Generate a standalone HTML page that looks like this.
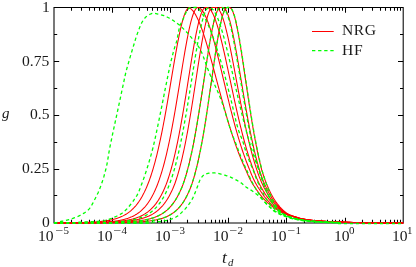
<!DOCTYPE html>
<html><head><meta charset="utf-8"><title>g vs t_d</title>
<style>
html,body{margin:0;padding:0;background:#fff;}
body{width:416px;height:267px;position:relative;overflow:hidden;font-family:"Liberation Serif",serif;}
.t{position:absolute;font-family:"Liberation Serif",serif;font-size:15.6px;line-height:17px;color:#1a1a1a;white-space:nowrap;will-change:transform;}
.sup{font-size:11px;}
.mn{display:inline-block;width:8.4px;transform:scaleX(1.28);transform-origin:0 50%;}
.it{font-style:italic;}
</style></head><body>
<svg width="416" height="267" viewBox="0 0 416 267" style="position:absolute;left:0;top:0">
<path d="M54.00,7.50 H403.20 V222.90 H54.00 Z" fill="none" stroke="#000" stroke-width="1.05"/>
<path d="M71.50,222.90 v-3.20 M71.50,7.50 v3.20 M81.50,222.90 v-3.20 M81.50,7.50 v3.20 M89.50,222.90 v-3.20 M89.50,7.50 v3.20 M94.50,222.90 v-3.20 M94.50,7.50 v3.20 M99.50,222.90 v-3.20 M99.50,7.50 v3.20 M103.50,222.90 v-3.20 M103.50,7.50 v3.20 M106.50,222.90 v-3.20 M106.50,7.50 v3.20 M109.50,222.90 v-3.20 M109.50,7.50 v3.20 M112.50,222.90 v-5.20 M112.50,7.50 v5.20 M129.50,222.90 v-3.20 M129.50,7.50 v3.20 M139.50,222.90 v-3.20 M139.50,7.50 v3.20 M147.50,222.90 v-3.20 M147.50,7.50 v3.20 M152.50,222.90 v-3.20 M152.50,7.50 v3.20 M157.50,222.90 v-3.20 M157.50,7.50 v3.20 M161.50,222.90 v-3.20 M161.50,7.50 v3.20 M164.50,222.90 v-3.20 M164.50,7.50 v3.20 M167.50,222.90 v-3.20 M167.50,7.50 v3.20 M170.50,222.90 v-5.20 M170.50,7.50 v5.20 M187.50,222.90 v-3.20 M187.50,7.50 v3.20 M198.50,222.90 v-3.20 M198.50,7.50 v3.20 M205.50,222.90 v-3.20 M205.50,7.50 v3.20 M211.50,222.90 v-3.20 M211.50,7.50 v3.20 M215.50,222.90 v-3.20 M215.50,7.50 v3.20 M219.50,222.90 v-3.20 M219.50,7.50 v3.20 M222.50,222.90 v-3.20 M222.50,7.50 v3.20 M225.50,222.90 v-3.20 M225.50,7.50 v3.20 M228.50,222.90 v-5.20 M228.50,7.50 v5.20 M246.50,222.90 v-3.20 M246.50,7.50 v3.20 M256.50,222.90 v-3.20 M256.50,7.50 v3.20 M263.50,222.90 v-3.20 M263.50,7.50 v3.20 M269.50,222.90 v-3.20 M269.50,7.50 v3.20 M273.50,222.90 v-3.20 M273.50,7.50 v3.20 M277.50,222.90 v-3.20 M277.50,7.50 v3.20 M281.50,222.90 v-3.20 M281.50,7.50 v3.20 M284.50,222.90 v-3.20 M284.50,7.50 v3.20 M286.50,222.90 v-5.20 M286.50,7.50 v5.20 M304.50,222.90 v-3.20 M304.50,7.50 v3.20 M314.50,222.90 v-3.20 M314.50,7.50 v3.20 M321.50,222.90 v-3.20 M321.50,7.50 v3.20 M327.50,222.90 v-3.20 M327.50,7.50 v3.20 M332.50,222.90 v-3.20 M332.50,7.50 v3.20 M335.50,222.90 v-3.20 M335.50,7.50 v3.20 M339.50,222.90 v-3.20 M339.50,7.50 v3.20 M342.50,222.90 v-3.20 M342.50,7.50 v3.20 M345.50,222.90 v-5.20 M345.50,7.50 v5.20 M362.50,222.90 v-3.20 M362.50,7.50 v3.20 M372.50,222.90 v-3.20 M372.50,7.50 v3.20 M380.50,222.90 v-3.20 M380.50,7.50 v3.20 M385.50,222.90 v-3.20 M385.50,7.50 v3.20 M390.50,222.90 v-3.20 M390.50,7.50 v3.20 M394.50,222.90 v-3.20 M394.50,7.50 v3.20 M397.50,222.90 v-3.20 M397.50,7.50 v3.20 M400.50,222.90 v-3.20 M400.50,7.50 v3.20 M54.00,195.50 h3.20 M403.20,195.50 h-3.20 M54.00,169.50 h5.20 M403.20,169.50 h-5.20 M54.00,142.50 h3.20 M403.20,142.50 h-3.20 M54.00,115.50 h5.20 M403.20,115.50 h-5.20 M54.00,88.50 h3.20 M403.20,88.50 h-3.20 M54.00,61.50 h5.20 M403.20,61.50 h-5.20 M54.00,34.50 h3.20 M403.20,34.50 h-3.20" fill="none" stroke="#000" stroke-width="1.05"/>
<g fill="none" stroke="#ff0000" stroke-width="1.05" stroke-linejoin="round">
<path d="M54.00,222.85 L54.50,222.85 L55.00,222.85 L55.50,222.84 L56.00,222.84 L56.50,222.84 L57.00,222.84 L57.50,222.84 L58.00,222.83 L58.50,222.83 L59.00,222.83 L59.50,222.83 L60.00,222.82 L60.50,222.82 L61.00,222.82 L61.50,222.81 L62.00,222.81 L62.50,222.81 L63.00,222.81 L63.50,222.80 L64.00,222.80 L64.50,222.79 L65.00,222.79 L65.50,222.79 L66.00,222.78 L66.50,222.78 L67.00,222.77 L67.50,222.77 L68.00,222.76 L68.50,222.76 L69.00,222.75 L69.50,222.75 L70.00,222.74 L70.50,222.74 L71.00,222.73 L71.50,222.73 L72.00,222.72 L72.50,222.71 L73.00,222.71 L73.50,222.70 L74.00,222.69 L74.50,222.68 L75.00,222.68 L75.50,222.67 L76.00,222.66 L76.50,222.65 L77.00,222.64 L77.50,222.63 L78.00,222.62 L78.50,222.61 L79.00,222.60 L79.50,222.59 L80.00,222.58 L80.50,222.57 L81.00,222.55 L81.50,222.54 L82.00,222.53 L82.50,222.51 L83.00,222.50 L83.50,222.49 L84.00,222.47 L84.50,222.45 L85.00,222.44 L85.50,222.42 L86.00,222.40 L86.50,222.39 L87.00,222.37 L87.50,222.35 L88.00,222.33 L88.50,222.31 L89.00,222.28 L89.50,222.26 L90.00,222.24 L90.50,222.21 L91.00,222.19 L91.50,222.16 L92.00,222.14 L92.50,222.11 L93.00,222.08 L93.50,222.05 L94.00,222.02 L94.50,221.99 L95.00,221.95 L95.50,221.92 L96.00,221.88 L96.50,221.85 L97.00,221.81 L97.50,221.77 L98.00,221.73 L98.50,221.68 L99.00,221.64 L99.50,221.59 L100.00,221.54 L100.50,221.49 L101.00,221.44 L101.50,221.39 L102.00,221.33 L102.50,221.28 L103.00,221.22 L103.50,221.16 L104.00,221.09 L104.50,221.03 L105.00,220.96 L105.50,220.89 L106.00,220.82 L106.50,220.74 L107.00,220.66 L107.50,220.58 L108.00,220.49 L108.50,220.41 L109.00,220.32 L109.50,220.22 L110.00,220.12 L110.50,220.02 L111.00,219.92 L111.50,219.81 L112.00,219.70 L112.50,219.58 L113.00,219.46 L113.50,219.33 L114.00,219.21 L114.50,219.07 L115.00,218.93 L115.50,218.79 L116.00,218.64 L116.50,218.48 L117.00,218.32 L117.50,218.16 L118.00,217.99 L118.50,217.81 L119.00,217.62 L119.50,217.43 L120.00,217.23 L120.50,217.03 L121.00,216.82 L121.50,216.60 L122.00,216.37 L122.50,216.14 L123.00,215.89 L123.50,215.64 L124.00,215.38 L124.50,215.11 L125.00,214.83 L125.50,214.54 L126.00,214.24 L126.50,213.93 L127.00,213.60 L127.50,213.27 L128.00,212.93 L128.50,212.57 L129.00,212.20 L129.50,211.82 L130.00,211.42 L130.50,211.01 L131.00,210.59 L131.50,210.15 L132.00,209.70 L132.50,209.23 L133.00,208.75 L133.50,208.25 L134.00,207.73 L134.50,207.19 L135.00,206.64 L135.50,206.07 L136.00,205.48 L136.50,204.86 L137.00,204.23 L137.50,203.58 L138.00,202.91 L138.50,202.21 L139.00,201.49 L139.50,200.75 L140.00,199.98 L140.50,199.18 L141.00,198.37 L141.50,197.52 L142.00,196.65 L142.50,195.75 L143.00,194.82 L143.50,193.86 L144.00,192.88 L144.50,191.86 L145.00,190.81 L145.50,189.73 L146.00,188.61 L146.50,187.46 L147.00,186.28 L147.50,185.06 L148.00,183.81 L148.50,182.51 L149.00,181.19 L149.50,179.82 L150.00,178.41 L150.50,176.96 L151.00,175.48 L151.50,173.95 L152.00,172.38 L152.50,170.77 L153.00,169.11 L153.50,167.41 L154.00,165.67 L154.50,163.88 L155.00,162.05 L155.50,160.17 L156.00,158.24 L156.50,156.27 L157.00,154.26 L157.50,152.19 L158.00,150.08 L158.50,147.93 L159.00,145.73 L159.50,143.48 L160.00,141.18 L160.50,138.84 L161.00,136.46 L161.50,134.03 L162.00,131.55 L162.50,129.04 L163.00,126.48 L163.50,123.88 L164.00,121.24 L164.50,118.56 L165.00,115.84 L165.50,113.09 L166.00,110.31 L166.50,107.49 L167.00,104.65 L167.50,101.78 L168.00,98.88 L168.50,95.96 L169.00,93.02 L169.50,90.07 L170.00,87.10 L170.50,84.13 L171.00,81.14 L171.50,78.16 L172.00,75.18 L172.50,72.20 L173.00,69.23 L173.50,66.28 L174.00,63.34 L174.50,60.43 L175.00,57.54 L175.50,54.69 L176.00,51.88 L176.50,49.11 L177.00,46.38 L177.50,43.71 L178.00,41.09 L178.50,38.54 L179.00,36.05 L179.50,33.64 L180.00,31.31 L180.50,29.06 L181.00,26.90 L181.50,24.83 L182.00,22.85 L182.50,20.98 L183.00,19.22 L183.50,17.56 L184.00,16.02 L184.50,14.60 L185.00,13.30 L185.50,12.13 L186.00,11.08 L186.50,10.16 L187.00,9.38 L187.50,8.73 L188.00,8.21 L188.50,7.84 L189.00,7.78 L189.50,7.99 L190.00,8.25 L190.50,8.56 L191.00,8.93 L191.50,9.35 L192.00,9.83 L192.50,10.36 L193.00,10.94 L193.50,11.58 L194.00,12.26 L194.50,13.00 L195.00,13.79 L195.50,14.62 L196.00,15.51 L196.50,16.44 L197.00,17.41 L197.50,18.44 L198.00,19.51 L198.50,20.62 L199.00,21.77 L199.50,22.97 L200.00,24.20 L200.50,25.48 L201.00,26.79 L201.50,28.14 L202.00,29.53 L202.50,30.95 L203.00,32.40 L203.50,33.89 L204.00,35.41 L204.50,36.95 L205.00,38.53 L205.50,40.13 L206.00,41.76 L206.50,43.41 L207.00,45.08 L207.50,46.78 L208.00,48.50 L208.50,50.23 L209.00,51.99 L209.50,53.76 L210.00,55.55 L210.50,57.35 L211.00,59.16 L211.50,60.99 L212.00,62.83 L212.50,64.67 L213.00,66.53 L213.50,68.39 L214.00,70.26 L214.50,72.13 L215.00,74.00 L215.50,75.88 L216.00,77.76 L216.50,79.65 L217.00,81.53 L217.50,83.41 L218.00,85.29 L218.50,87.16 L219.00,89.04 L219.50,90.90 L220.00,92.76 L220.50,94.62 L221.00,96.47 L221.50,98.31 L222.00,100.14 L222.50,101.96 L223.00,103.78 L223.50,105.58 L224.00,107.37 L224.50,109.15 L225.00,110.92 L225.50,112.67 L226.00,114.41 L226.50,116.14 L227.00,117.86 L227.50,119.56 L228.00,121.24 L228.50,122.91 L229.00,124.56 L229.50,126.20 L230.00,127.82 L230.50,129.43 L231.00,131.01 L231.50,132.58 L232.00,134.14 L232.50,135.67 L233.00,137.19 L233.50,138.69 L234.00,140.18 L234.50,141.64 L235.00,143.09 L235.50,144.52 L236.00,145.93 L236.50,147.32 L237.00,148.69 L237.50,150.05 L238.00,151.38 L238.50,152.70 L239.00,154.00 L239.50,155.28 L240.00,156.54 L240.50,157.78 L241.00,159.01 L241.50,160.22 L242.00,161.41 L242.50,162.58 L243.00,163.73 L243.50,164.87 L244.00,165.98 L244.50,167.08 L245.00,168.16 L245.50,169.23 L246.00,170.29 L246.50,171.48 L247.00,172.72 L247.50,173.91 L248.00,175.03 L248.50,176.11 L249.00,177.16 L249.50,178.17 L250.00,179.15 L250.50,180.11 L251.00,181.03 L251.50,181.93 L252.00,182.80 L252.50,183.65 L253.00,184.48 L253.50,185.28 L254.00,186.07 L254.50,186.83 L255.00,187.57 L255.50,188.30 L256.00,189.01 L256.50,189.69 L257.00,190.36 L257.50,191.03 L258.00,191.72 L258.50,192.41 L259.00,193.10 L259.50,193.77 L260.00,194.42 L260.50,195.07 L261.00,195.69 L261.50,196.30 L262.00,196.90 L262.50,197.48 L263.00,198.04 L263.50,198.59 L264.00,199.13 L264.50,199.66 L265.00,200.17 L265.50,200.67 L266.00,201.16 L266.50,201.64 L267.00,202.11 L267.50,202.57 L268.00,203.02 L268.50,203.46 L269.00,203.89 L269.50,204.31 L270.00,204.72 L270.50,205.12 L271.00,205.51 L271.50,205.89 L272.00,206.26 L272.50,206.63 L273.00,206.99 L273.50,207.34 L274.00,207.69 L274.50,208.03 L275.00,208.37 L275.50,208.70 L276.00,209.02 L276.50,209.34 L277.00,209.65 L277.50,209.96 L278.00,210.26 L278.50,210.56 L279.00,210.85 L279.50,211.14 L280.00,211.42 L280.50,211.70 L281.00,211.97 L281.50,212.24 L282.00,212.50 L282.50,212.77 L283.00,213.02 L283.50,213.26 L284.00,213.50 L284.50,213.73 L285.00,213.95 L285.50,214.17 L286.00,214.38 L286.50,214.60 L287.00,214.81 L287.50,215.00 L288.00,215.17 L288.50,215.34 L289.00,215.51 L289.50,215.68 L290.00,215.84 L290.50,216.00 L291.00,216.15 L291.50,216.31 L292.00,216.46 L292.50,216.60 L293.00,216.75 L293.50,216.89 L294.00,217.03 L294.50,217.18 L295.00,217.32 L295.50,217.48 L296.00,217.64 L296.50,217.79 L297.00,217.95 L297.50,218.09 L298.00,218.23 L298.50,218.36 L299.00,218.49 L299.50,218.62 L300.00,218.74 L300.50,218.84 L301.00,218.93 L301.50,219.02 L302.00,219.10 L302.50,219.18 L303.00,219.26 L303.50,219.34 L304.00,219.42 L304.50,219.50 L305.00,219.58 L305.50,219.66 L306.00,219.73 L306.50,219.81 L307.00,219.88 L307.50,219.96 L308.00,220.03 L308.50,220.09 L309.00,220.16 L309.50,220.23 L310.00,220.29 L310.50,220.35 L311.00,220.41 L311.50,220.47 L312.00,220.52 L312.50,220.57 L313.00,220.61 L313.50,220.66 L314.00,220.70 L314.50,220.74 L315.00,220.79 L315.50,220.83 L316.00,220.87 L316.50,220.91 L317.00,220.95 L317.50,220.99 L318.00,221.03 L318.50,221.07 L319.00,221.10 L319.50,221.14 L320.00,221.17 L320.50,221.21 L321.00,221.24 L321.50,221.28 L322.00,221.31 L322.50,221.34 L323.00,221.37 L323.50,221.40 L324.00,221.43 L324.50,221.46 L325.00,221.48 L325.50,221.51 L326.00,221.53 L326.50,221.56 L327.00,221.58 L327.50,221.61 L328.00,221.63 L328.50,221.66 L329.00,221.68 L329.50,221.70 L330.00,221.72 L330.50,221.75 L331.00,221.77 L331.50,221.79 L332.00,221.81 L332.50,221.83 L333.00,221.85 L333.50,221.87 L334.00,221.89 L334.50,221.91 L335.00,221.93 L335.50,221.95 L336.00,221.98 L336.50,222.00 L337.00,222.03 L337.50,222.05 L338.00,222.07 L338.50,222.09 L339.00,222.12 L339.50,222.14 L340.00,222.16 L340.50,222.18 L341.00,222.20 L341.50,222.22 L342.00,222.24 L342.50,222.25 L343.00,222.27 L343.50,222.29 L344.00,222.30 L344.50,222.32 L345.00,222.34 L345.50,222.35 L346.00,222.37 L346.50,222.38 L347.00,222.39 L347.50,222.41 L348.00,222.42 L348.50,222.43 L349.00,222.45 L349.50,222.46 L350.00,222.47 L350.50,222.48 L351.00,222.50 L351.50,222.51 L352.00,222.52 L352.50,222.53 L353.00,222.53 L353.50,222.54 L354.00,222.55 L354.50,222.56 L355.00,222.56 L355.50,222.57 L356.00,222.58 L356.50,222.59 L357.00,222.59 L357.50,222.60 L358.00,222.61 L358.50,222.61 L359.00,222.62 L359.50,222.63 L360.00,222.64 L360.50,222.64 L361.00,222.65 L361.50,222.66 L362.00,222.66 L362.50,222.67 L363.00,222.67 L363.50,222.68 L364.00,222.69 L364.50,222.69 L365.00,222.70 L365.50,222.70 L366.00,222.71 L366.50,222.72 L367.00,222.72 L367.50,222.73 L368.00,222.73 L368.50,222.74 L369.00,222.74 L369.50,222.75 L370.00,222.75 L370.50,222.76 L371.00,222.76 L371.50,222.77 L372.00,222.77 L372.50,222.78 L373.00,222.78 L373.50,222.79 L374.00,222.79 L374.50,222.79 L375.00,222.80 L375.50,222.80 L376.00,222.81 L376.50,222.81 L377.00,222.81 L377.50,222.82 L378.00,222.82 L378.50,222.82 L379.00,222.83 L379.50,222.83 L380.00,222.83 L380.50,222.84 L381.00,222.84 L381.50,222.84 L382.00,222.84 L382.50,222.85 L383.00,222.85 L383.50,222.85 L384.00,222.85 L384.50,222.86 L385.00,222.86 L385.50,222.86 L386.00,222.86 L386.50,222.86 L387.00,222.86 L387.50,222.86 L388.00,222.87 L388.50,222.87 L389.00,222.87 L389.50,222.87 L390.00,222.87 L390.50,222.87 L391.00,222.87 L391.50,222.88 L392.00,222.88 L392.50,222.88 L393.00,222.88 L393.50,222.88 L394.00,222.88 L394.50,222.88 L395.00,222.88 L395.50,222.88 L396.00,222.88 L396.50,222.89 L397.00,222.89 L397.50,222.89 L398.00,222.89 L398.50,222.89 L399.00,222.89 L399.50,222.89 L400.00,222.89 L400.50,222.89 L401.00,222.89 L401.50,222.89 L402.00,222.90 L402.50,222.90 L403.00,222.90 L403.20,222.90"/>
<path d="M54.00,222.88 L54.50,222.88 L55.00,222.88 L55.50,222.88 L56.00,222.88 L56.50,222.88 L57.00,222.88 L57.50,222.88 L58.00,222.87 L58.50,222.87 L59.00,222.87 L59.50,222.87 L60.00,222.87 L60.50,222.87 L61.00,222.87 L61.50,222.87 L62.00,222.87 L62.50,222.86 L63.00,222.86 L63.50,222.86 L64.00,222.86 L64.50,222.86 L65.00,222.86 L65.50,222.85 L66.00,222.85 L66.50,222.85 L67.00,222.85 L67.50,222.85 L68.00,222.85 L68.50,222.84 L69.00,222.84 L69.50,222.84 L70.00,222.84 L70.50,222.83 L71.00,222.83 L71.50,222.83 L72.00,222.83 L72.50,222.82 L73.00,222.82 L73.50,222.82 L74.00,222.82 L74.50,222.81 L75.00,222.81 L75.50,222.81 L76.00,222.80 L76.50,222.80 L77.00,222.79 L77.50,222.79 L78.00,222.79 L78.50,222.78 L79.00,222.78 L79.50,222.77 L80.00,222.77 L80.50,222.76 L81.00,222.76 L81.50,222.75 L82.00,222.75 L82.50,222.74 L83.00,222.73 L83.50,222.73 L84.00,222.72 L84.50,222.71 L85.00,222.71 L85.50,222.70 L86.00,222.69 L86.50,222.69 L87.00,222.68 L87.50,222.67 L88.00,222.66 L88.50,222.65 L89.00,222.64 L89.50,222.63 L90.00,222.62 L90.50,222.61 L91.00,222.60 L91.50,222.59 L92.00,222.58 L92.50,222.56 L93.00,222.55 L93.50,222.54 L94.00,222.52 L94.50,222.51 L95.00,222.50 L95.50,222.48 L96.00,222.46 L96.50,222.45 L97.00,222.43 L97.50,222.41 L98.00,222.39 L98.50,222.38 L99.00,222.36 L99.50,222.33 L100.00,222.31 L100.50,222.29 L101.00,222.27 L101.50,222.24 L102.00,222.22 L102.50,222.19 L103.00,222.17 L103.50,222.14 L104.00,222.11 L104.50,222.08 L105.00,222.05 L105.50,222.02 L106.00,221.98 L106.50,221.95 L107.00,221.91 L107.50,221.88 L108.00,221.84 L108.50,221.80 L109.00,221.76 L109.50,221.71 L110.00,221.67 L110.50,221.62 L111.00,221.57 L111.50,221.52 L112.00,221.47 L112.50,221.42 L113.00,221.36 L113.50,221.30 L114.00,221.24 L114.50,221.18 L115.00,221.11 L115.50,221.05 L116.00,220.98 L116.50,220.91 L117.00,220.83 L117.50,220.75 L118.00,220.67 L118.50,220.59 L119.00,220.50 L119.50,220.41 L120.00,220.32 L120.50,220.22 L121.00,220.12 L121.50,220.01 L122.00,219.90 L122.50,219.79 L123.00,219.67 L123.50,219.55 L124.00,219.43 L124.50,219.30 L125.00,219.16 L125.50,219.02 L126.00,218.87 L126.50,218.72 L127.00,218.57 L127.50,218.40 L128.00,218.24 L128.50,218.06 L129.00,217.88 L129.50,217.69 L130.00,217.50 L130.50,217.30 L131.00,217.09 L131.50,216.87 L132.00,216.64 L132.50,216.41 L133.00,216.17 L133.50,215.92 L134.00,215.66 L134.50,215.39 L135.00,215.11 L135.50,214.82 L136.00,214.52 L136.50,214.21 L137.00,213.88 L137.50,213.55 L138.00,213.20 L138.50,212.84 L139.00,212.47 L139.50,212.09 L140.00,211.69 L140.50,211.27 L141.00,210.85 L141.50,210.40 L142.00,209.94 L142.50,209.47 L143.00,208.98 L143.50,208.47 L144.00,207.94 L144.50,207.39 L145.00,206.83 L145.50,206.24 L146.00,205.64 L146.50,205.01 L147.00,204.36 L147.50,203.69 L148.00,203.00 L148.50,202.28 L149.00,201.54 L149.50,200.77 L150.00,199.98 L150.50,199.16 L151.00,198.31 L151.50,197.44 L152.00,196.53 L152.50,195.60 L153.00,194.63 L153.50,193.64 L154.00,192.61 L154.50,191.55 L155.00,190.45 L155.50,189.32 L156.00,188.16 L156.50,186.96 L157.00,185.72 L157.50,184.44 L158.00,183.12 L158.50,181.77 L159.00,180.37 L159.50,178.93 L160.00,177.45 L160.50,175.93 L161.00,174.36 L161.50,172.75 L162.00,171.09 L162.50,169.39 L163.00,167.64 L163.50,165.84 L164.00,164.00 L164.50,162.11 L165.00,160.17 L165.50,158.18 L166.00,156.14 L166.50,154.05 L167.00,151.92 L167.50,149.73 L168.00,147.49 L168.50,145.21 L169.00,142.87 L169.50,140.49 L170.00,138.05 L170.50,135.57 L171.00,133.04 L171.50,130.47 L172.00,127.85 L172.50,125.18 L173.00,122.47 L173.50,119.72 L174.00,116.93 L174.50,114.10 L175.00,111.24 L175.50,108.34 L176.00,105.41 L176.50,102.45 L177.00,99.46 L177.50,96.45 L178.00,93.42 L178.50,90.36 L179.00,87.30 L179.50,84.23 L180.00,81.14 L180.50,78.06 L181.00,74.98 L181.50,71.90 L182.00,68.84 L182.50,65.79 L183.00,62.76 L183.50,59.75 L184.00,56.78 L184.50,53.84 L185.00,50.95 L185.50,48.10 L186.00,45.30 L186.50,42.57 L187.00,39.89 L187.50,37.29 L188.00,34.76 L188.50,32.31 L189.00,29.95 L189.50,27.68 L190.00,25.50 L190.50,23.43 L191.00,21.47 L191.50,19.62 L192.00,17.88 L192.50,16.27 L193.00,14.78 L193.50,13.43 L194.00,12.20 L194.50,11.11 L195.00,10.16 L195.50,9.35 L196.00,8.69 L196.50,8.17 L197.00,7.80 L197.50,7.57 L198.00,7.56 L198.50,7.64 L199.00,7.81 L199.50,8.05 L200.00,8.36 L200.50,8.75 L201.00,9.19 L201.50,9.71 L202.00,10.29 L202.50,10.94 L203.00,11.65 L203.50,12.43 L204.00,13.27 L204.50,14.17 L205.00,15.13 L205.50,16.15 L206.00,17.24 L206.50,18.38 L207.00,19.57 L207.50,20.82 L208.00,22.12 L208.50,23.48 L209.00,24.88 L209.50,26.33 L210.00,27.83 L210.50,29.38 L211.00,30.97 L211.50,32.60 L212.00,34.27 L212.50,35.97 L213.00,37.72 L213.50,39.50 L214.00,41.31 L214.50,43.15 L215.00,45.02 L215.50,46.92 L216.00,48.85 L216.50,50.79 L217.00,52.76 L217.50,54.76 L218.00,56.76 L218.50,58.79 L219.00,60.83 L219.50,62.89 L220.00,64.95 L220.50,67.03 L221.00,69.12 L221.50,71.21 L222.00,73.31 L222.50,75.41 L223.00,77.51 L223.50,79.62 L224.00,81.72 L224.50,83.83 L225.00,85.93 L225.50,88.03 L226.00,90.12 L226.50,92.20 L227.00,94.28 L227.50,96.35 L228.00,98.41 L228.50,100.46 L229.00,102.50 L229.50,104.52 L230.00,106.53 L230.50,108.53 L231.00,110.51 L231.50,112.48 L232.00,114.43 L232.50,116.36 L233.00,118.27 L233.50,120.17 L234.00,122.05 L234.50,123.91 L235.00,125.74 L235.50,127.56 L236.00,129.36 L236.50,131.14 L237.00,132.89 L237.50,134.62 L238.00,136.34 L238.50,138.03 L239.00,139.69 L239.50,141.34 L240.00,142.96 L240.50,144.56 L241.00,146.13 L241.50,147.69 L242.00,149.22 L242.50,150.72 L243.00,152.21 L243.50,153.67 L244.00,155.10 L244.50,156.52 L245.00,157.91 L245.50,159.28 L246.00,160.62 L246.50,161.94 L247.00,163.24 L247.50,164.52 L248.00,165.78 L248.50,167.01 L249.00,168.20 L249.50,169.38 L250.00,170.61 L250.50,171.91 L251.00,173.21 L251.50,174.44 L252.00,175.62 L252.50,176.76 L253.00,177.87 L253.50,178.94 L254.00,179.97 L254.50,180.98 L255.00,181.95 L255.50,182.90 L256.00,183.82 L256.50,184.71 L257.00,185.58 L257.50,186.42 L258.00,187.24 L258.50,188.05 L259.00,188.83 L259.50,189.58 L260.00,190.32 L260.50,191.06 L261.00,191.81 L261.50,192.56 L262.00,193.30 L262.50,194.02 L263.00,194.73 L263.50,195.42 L264.00,196.08 L264.50,196.74 L265.00,197.37 L265.50,197.98 L266.00,198.59 L266.50,199.17 L267.00,199.74 L267.50,200.30 L268.00,200.84 L268.50,201.37 L269.00,201.89 L269.50,202.39 L270.00,202.88 L270.50,203.36 L271.00,203.83 L271.50,204.29 L272.00,204.74 L272.50,205.18 L273.00,205.60 L273.50,206.01 L274.00,206.42 L274.50,206.82 L275.00,207.21 L275.50,207.60 L276.00,207.98 L276.50,208.35 L277.00,208.71 L277.50,209.06 L278.00,209.41 L278.50,209.75 L279.00,210.09 L279.50,210.41 L280.00,210.73 L280.50,211.05 L281.00,211.36 L281.50,211.66 L282.00,211.95 L282.50,212.25 L283.00,212.53 L283.50,212.81 L284.00,213.08 L284.50,213.34 L285.00,213.59 L285.50,213.83 L286.00,214.06 L286.50,214.29 L287.00,214.52 L287.50,214.74 L288.00,214.94 L288.50,215.13 L289.00,215.30 L289.50,215.48 L290.00,215.65 L290.50,215.81 L291.00,215.98 L291.50,216.14 L292.00,216.29 L292.50,216.45 L293.00,216.60 L293.50,216.74 L294.00,216.89 L294.50,217.03 L295.00,217.18 L295.50,217.32 L296.00,217.48 L296.50,217.64 L297.00,217.80 L297.50,217.95 L298.00,218.10 L298.50,218.24 L299.00,218.37 L299.50,218.51 L300.00,218.64 L300.50,218.76 L301.00,218.86 L301.50,218.94 L302.00,219.03 L302.50,219.11 L303.00,219.19 L303.50,219.26 L304.00,219.34 L304.50,219.43 L305.00,219.51 L305.50,219.58 L306.00,219.66 L306.50,219.74 L307.00,219.81 L307.50,219.88 L308.00,219.96 L308.50,220.02 L309.00,220.09 L309.50,220.16 L310.00,220.22 L310.50,220.28 L311.00,220.35 L311.50,220.40 L312.00,220.46 L312.50,220.51 L313.00,220.56 L313.50,220.60 L314.00,220.65 L314.50,220.69 L315.00,220.73 L315.50,220.77 L316.00,220.82 L316.50,220.86 L317.00,220.90 L317.50,220.94 L318.00,220.98 L318.50,221.01 L319.00,221.05 L319.50,221.09 L320.00,221.12 L320.50,221.16 L321.00,221.19 L321.50,221.23 L322.00,221.26 L322.50,221.29 L323.00,221.32 L323.50,221.35 L324.00,221.38 L324.50,221.41 L325.00,221.44 L325.50,221.46 L326.00,221.49 L326.50,221.51 L327.00,221.54 L327.50,221.56 L328.00,221.59 L328.50,221.61 L329.00,221.63 L329.50,221.66 L330.00,221.68 L330.50,221.70 L331.00,221.72 L331.50,221.74 L332.00,221.77 L332.50,221.79 L333.00,221.81 L333.50,221.83 L334.00,221.85 L334.50,221.86 L335.00,221.88 L335.50,221.90 L336.00,221.92 L336.50,221.94 L337.00,221.97 L337.50,221.99 L338.00,222.02 L338.50,222.04 L339.00,222.06 L339.50,222.08 L340.00,222.11 L340.50,222.13 L341.00,222.15 L341.50,222.17 L342.00,222.19 L342.50,222.21 L343.00,222.23 L343.50,222.24 L344.00,222.26 L344.50,222.28 L345.00,222.29 L345.50,222.31 L346.00,222.33 L346.50,222.34 L347.00,222.36 L347.50,222.37 L348.00,222.38 L348.50,222.40 L349.00,222.41 L349.50,222.43 L350.00,222.44 L350.50,222.45 L351.00,222.46 L351.50,222.47 L352.00,222.49 L352.50,222.50 L353.00,222.51 L353.50,222.52 L354.00,222.53 L354.50,222.53 L355.00,222.54 L355.50,222.55 L356.00,222.56 L356.50,222.57 L357.00,222.57 L357.50,222.58 L358.00,222.59 L358.50,222.60 L359.00,222.60 L359.50,222.61 L360.00,222.62 L360.50,222.63 L361.00,222.63 L361.50,222.64 L362.00,222.65 L362.50,222.65 L363.00,222.66 L363.50,222.67 L364.00,222.67 L364.50,222.68 L365.00,222.69 L365.50,222.69 L366.00,222.70 L366.50,222.70 L367.00,222.71 L367.50,222.72 L368.00,222.72 L368.50,222.73 L369.00,222.73 L369.50,222.74 L370.00,222.75 L370.50,222.75 L371.00,222.76 L371.50,222.76 L372.00,222.77 L372.50,222.77 L373.00,222.78 L373.50,222.78 L374.00,222.79 L374.50,222.79 L375.00,222.79 L375.50,222.80 L376.00,222.80 L376.50,222.81 L377.00,222.81 L377.50,222.81 L378.00,222.82 L378.50,222.82 L379.00,222.83 L379.50,222.83 L380.00,222.83 L380.50,222.84 L381.00,222.84 L381.50,222.84 L382.00,222.84 L382.50,222.85 L383.00,222.85 L383.50,222.85 L384.00,222.85 L384.50,222.86 L385.00,222.86 L385.50,222.86 L386.00,222.86 L386.50,222.86 L387.00,222.86 L387.50,222.86 L388.00,222.87 L388.50,222.87 L389.00,222.87 L389.50,222.87 L390.00,222.87 L390.50,222.87 L391.00,222.87 L391.50,222.88 L392.00,222.88 L392.50,222.88 L393.00,222.88 L393.50,222.88 L394.00,222.88 L394.50,222.88 L395.00,222.88 L395.50,222.88 L396.00,222.88 L396.50,222.89 L397.00,222.89 L397.50,222.89 L398.00,222.89 L398.50,222.89 L399.00,222.89 L399.50,222.89 L400.00,222.89 L400.50,222.89 L401.00,222.89 L401.50,222.89 L402.00,222.90 L402.50,222.90 L403.00,222.90 L403.20,222.90"/>
<path d="M54.00,222.89 L54.50,222.88 L55.00,222.88 L55.50,222.88 L56.00,222.88 L56.50,222.88 L57.00,222.88 L57.50,222.88 L58.00,222.88 L58.50,222.88 L59.00,222.88 L59.50,222.88 L60.00,222.88 L60.50,222.88 L61.00,222.88 L61.50,222.87 L62.00,222.87 L62.50,222.87 L63.00,222.87 L63.50,222.87 L64.00,222.87 L64.50,222.87 L65.00,222.87 L65.50,222.87 L66.00,222.87 L66.50,222.86 L67.00,222.86 L67.50,222.86 L68.00,222.86 L68.50,222.86 L69.00,222.86 L69.50,222.85 L70.00,222.85 L70.50,222.85 L71.00,222.85 L71.50,222.85 L72.00,222.85 L72.50,222.84 L73.00,222.84 L73.50,222.84 L74.00,222.84 L74.50,222.84 L75.00,222.83 L75.50,222.83 L76.00,222.83 L76.50,222.83 L77.00,222.82 L77.50,222.82 L78.00,222.82 L78.50,222.81 L79.00,222.81 L79.50,222.81 L80.00,222.80 L80.50,222.80 L81.00,222.80 L81.50,222.79 L82.00,222.79 L82.50,222.78 L83.00,222.78 L83.50,222.78 L84.00,222.77 L84.50,222.77 L85.00,222.76 L85.50,222.76 L86.00,222.75 L86.50,222.75 L87.00,222.74 L87.50,222.73 L88.00,222.73 L88.50,222.72 L89.00,222.72 L89.50,222.71 L90.00,222.70 L90.50,222.69 L91.00,222.69 L91.50,222.68 L92.00,222.67 L92.50,222.66 L93.00,222.65 L93.50,222.64 L94.00,222.63 L94.50,222.63 L95.00,222.62 L95.50,222.60 L96.00,222.59 L96.50,222.58 L97.00,222.57 L97.50,222.56 L98.00,222.55 L98.50,222.53 L99.00,222.52 L99.50,222.51 L100.00,222.49 L100.50,222.48 L101.00,222.46 L101.50,222.44 L102.00,222.43 L102.50,222.41 L103.00,222.39 L103.50,222.37 L104.00,222.35 L104.50,222.33 L105.00,222.31 L105.50,222.29 L106.00,222.27 L106.50,222.25 L107.00,222.22 L107.50,222.20 L108.00,222.17 L108.50,222.14 L109.00,222.12 L109.50,222.09 L110.00,222.06 L110.50,222.03 L111.00,221.99 L111.50,221.96 L112.00,221.93 L112.50,221.89 L113.00,221.85 L113.50,221.81 L114.00,221.78 L114.50,221.74 L115.00,221.70 L115.50,221.66 L116.00,221.62 L116.50,221.58 L117.00,221.53 L117.50,221.48 L118.00,221.44 L118.50,221.39 L119.00,221.34 L119.50,221.28 L120.00,221.23 L120.50,221.17 L121.00,221.12 L121.50,221.06 L122.00,220.99 L122.50,220.93 L123.00,220.86 L123.50,220.79 L124.00,220.72 L124.50,220.65 L125.00,220.57 L125.50,220.49 L126.00,220.41 L126.50,220.32 L127.00,220.23 L127.50,220.14 L128.00,220.05 L128.50,219.95 L129.00,219.85 L129.50,219.75 L130.00,219.64 L130.50,219.53 L131.00,219.41 L131.50,219.29 L132.00,219.16 L132.50,219.04 L133.00,218.90 L133.50,218.76 L134.00,218.62 L134.50,218.47 L135.00,218.32 L135.50,218.16 L136.00,218.00 L136.50,217.83 L137.00,217.65 L137.50,217.47 L138.00,217.28 L138.50,217.09 L139.00,216.88 L139.50,216.67 L140.00,216.46 L140.50,216.23 L141.00,216.00 L141.50,215.76 L142.00,215.51 L142.50,215.25 L143.00,214.99 L143.50,214.71 L144.00,214.42 L144.50,214.13 L145.00,213.82 L145.50,213.50 L146.00,213.17 L146.50,212.83 L147.00,212.48 L147.50,212.12 L148.00,211.74 L148.50,211.35 L149.00,210.94 L149.50,210.53 L150.00,210.09 L150.50,209.64 L151.00,209.18 L151.50,208.70 L152.00,208.20 L152.50,207.69 L153.00,207.16 L153.50,206.61 L154.00,206.04 L154.50,205.45 L155.00,204.84 L155.50,204.21 L156.00,203.56 L156.50,202.88 L157.00,202.18 L157.50,201.46 L158.00,200.72 L158.50,199.95 L159.00,199.15 L159.50,198.33 L160.00,197.48 L160.50,196.60 L161.00,195.69 L161.50,194.75 L162.00,193.78 L162.50,192.78 L163.00,191.75 L163.50,190.68 L164.00,189.58 L164.50,188.45 L165.00,187.28 L165.50,186.07 L166.00,184.82 L166.50,183.52 L167.00,182.14 L167.50,180.72 L168.00,179.26 L168.50,177.75 L169.00,176.20 L169.50,174.60 L170.00,172.96 L170.50,171.26 L171.00,169.53 L171.50,167.74 L172.00,165.90 L172.50,164.01 L173.00,162.07 L173.50,160.09 L174.00,158.05 L174.50,155.95 L175.00,153.81 L175.50,151.61 L176.00,149.37 L176.50,147.07 L177.00,144.72 L177.50,142.31 L178.00,139.86 L178.50,137.35 L179.00,134.80 L179.50,132.19 L180.00,129.54 L180.50,126.84 L181.00,124.09 L181.50,121.30 L182.00,118.46 L182.50,115.59 L183.00,112.67 L183.50,109.72 L184.00,106.73 L184.50,103.71 L185.00,100.66 L185.50,97.59 L186.00,94.49 L186.50,91.37 L187.00,88.24 L187.50,85.09 L188.00,81.93 L188.50,78.78 L189.00,75.62 L189.50,72.47 L190.00,69.32 L190.50,66.20 L191.00,63.09 L191.50,60.01 L192.00,56.97 L192.50,53.96 L193.00,50.99 L193.50,48.07 L194.00,45.21 L194.50,42.41 L195.00,39.68 L195.50,37.02 L196.00,34.43 L196.50,31.94 L197.00,29.54 L197.50,27.23 L198.00,25.02 L198.50,22.93 L199.00,20.95 L199.50,19.09 L200.00,17.35 L200.50,15.74 L201.00,14.26 L201.50,12.92 L202.00,11.72 L202.50,10.67 L203.00,9.76 L203.50,9.01 L204.00,8.40 L204.50,7.95 L205.00,7.65 L205.50,7.51 L206.00,7.50 L206.50,7.50 L207.00,7.53 L207.50,7.61 L208.00,7.74 L208.50,8.00 L209.00,8.33 L209.50,8.76 L210.00,9.27 L210.50,9.86 L211.00,10.53 L211.50,11.29 L212.00,12.13 L212.50,13.05 L213.00,14.04 L213.50,15.12 L214.00,16.26 L214.50,17.48 L215.00,18.77 L215.50,20.13 L216.00,21.56 L216.50,23.05 L217.00,24.61 L217.50,26.23 L218.00,27.90 L218.50,29.64 L219.00,31.42 L219.50,33.26 L220.00,35.14 L220.50,37.08 L221.00,39.06 L221.50,41.08 L222.00,43.13 L222.50,45.23 L223.00,47.35 L223.50,49.52 L224.00,51.70 L224.50,53.92 L225.00,56.16 L225.50,58.42 L226.00,60.70 L226.50,63.00 L227.00,65.31 L227.50,67.63 L228.00,69.97 L228.50,72.31 L229.00,74.66 L229.50,77.01 L230.00,79.37 L230.50,81.72 L231.00,84.07 L231.50,86.42 L232.00,88.76 L232.50,91.10 L233.00,93.43 L233.50,95.75 L234.00,98.05 L234.50,100.34 L235.00,102.62 L235.50,104.88 L236.00,107.13 L236.50,109.35 L237.00,111.56 L237.50,113.75 L238.00,115.92 L238.50,118.06 L239.00,120.18 L239.50,122.28 L240.00,124.35 L240.50,126.40 L241.00,128.43 L241.50,130.42 L242.00,132.39 L242.50,134.34 L243.00,136.25 L243.50,138.14 L244.00,140.00 L244.50,141.84 L245.00,143.64 L245.50,145.41 L246.00,147.16 L246.50,148.88 L247.00,150.57 L247.50,152.23 L248.00,153.86 L248.50,155.46 L249.00,157.03 L249.50,158.58 L250.00,160.09 L250.50,161.58 L251.00,163.04 L251.50,164.47 L252.00,165.87 L252.50,167.25 L253.00,168.59 L253.50,169.91 L254.00,171.28 L254.50,172.67 L255.00,174.02 L255.50,175.30 L256.00,176.54 L256.50,177.74 L257.00,178.90 L257.50,180.03 L258.00,181.11 L258.50,182.17 L259.00,183.19 L259.50,184.19 L260.00,185.15 L260.50,186.09 L261.00,187.00 L261.50,187.89 L262.00,188.75 L262.50,189.59 L263.00,190.41 L263.50,191.22 L264.00,192.05 L264.50,192.86 L265.00,193.66 L265.50,194.44 L266.00,195.19 L266.50,195.93 L267.00,196.64 L267.50,197.33 L268.00,198.01 L268.50,198.66 L269.00,199.30 L269.50,199.92 L270.00,200.52 L270.50,201.11 L271.00,201.68 L271.50,202.24 L272.00,202.78 L272.50,203.31 L273.00,203.82 L273.50,204.32 L274.00,204.81 L274.50,205.29 L275.00,205.75 L275.50,206.21 L276.00,206.65 L276.50,207.09 L277.00,207.52 L277.50,207.94 L278.00,208.35 L278.50,208.75 L279.00,209.14 L279.50,209.52 L280.00,209.90 L280.50,210.26 L281.00,210.61 L281.50,210.96 L282.00,211.30 L282.50,211.63 L283.00,211.95 L283.50,212.27 L284.00,212.58 L284.50,212.88 L285.00,213.17 L285.50,213.44 L286.00,213.70 L286.50,213.95 L287.00,214.19 L287.50,214.43 L288.00,214.67 L288.50,214.89 L289.00,215.09 L289.50,215.27 L290.00,215.44 L290.50,215.62 L291.00,215.79 L291.50,215.96 L292.00,216.12 L292.50,216.28 L293.00,216.44 L293.50,216.59 L294.00,216.74 L294.50,216.89 L295.00,217.04 L295.50,217.18 L296.00,217.33 L296.50,217.49 L297.00,217.65 L297.50,217.81 L298.00,217.97 L298.50,218.11 L299.00,218.26 L299.50,218.39 L300.00,218.53 L300.50,218.66 L301.00,218.78 L301.50,218.87 L302.00,218.96 L302.50,219.04 L303.00,219.12 L303.50,219.20 L304.00,219.28 L304.50,219.35 L305.00,219.44 L305.50,219.52 L306.00,219.59 L306.50,219.67 L307.00,219.74 L307.50,219.82 L308.00,219.89 L308.50,219.96 L309.00,220.02 L309.50,220.09 L310.00,220.16 L310.50,220.22 L311.00,220.28 L311.50,220.34 L312.00,220.40 L312.50,220.45 L313.00,220.50 L313.50,220.55 L314.00,220.60 L314.50,220.64 L315.00,220.68 L315.50,220.73 L316.00,220.77 L316.50,220.81 L317.00,220.85 L317.50,220.89 L318.00,220.93 L318.50,220.96 L319.00,221.00 L319.50,221.04 L320.00,221.07 L320.50,221.11 L321.00,221.14 L321.50,221.18 L322.00,221.21 L322.50,221.24 L323.00,221.27 L323.50,221.30 L324.00,221.33 L324.50,221.36 L325.00,221.39 L325.50,221.42 L326.00,221.44 L326.50,221.47 L327.00,221.49 L327.50,221.52 L328.00,221.54 L328.50,221.57 L329.00,221.59 L329.50,221.61 L330.00,221.64 L330.50,221.66 L331.00,221.68 L331.50,221.70 L332.00,221.72 L332.50,221.74 L333.00,221.76 L333.50,221.78 L334.00,221.80 L334.50,221.82 L335.00,221.84 L335.50,221.86 L336.00,221.88 L336.50,221.90 L337.00,221.91 L337.50,221.93 L338.00,221.96 L338.50,221.98 L339.00,222.01 L339.50,222.03 L340.00,222.05 L340.50,222.08 L341.00,222.10 L341.50,222.12 L342.00,222.14 L342.50,222.16 L343.00,222.18 L343.50,222.20 L344.00,222.22 L344.50,222.23 L345.00,222.25 L345.50,222.27 L346.00,222.29 L346.50,222.30 L347.00,222.32 L347.50,222.33 L348.00,222.35 L348.50,222.36 L349.00,222.38 L349.50,222.39 L350.00,222.40 L350.50,222.42 L351.00,222.43 L351.50,222.44 L352.00,222.45 L352.50,222.47 L353.00,222.48 L353.50,222.49 L354.00,222.50 L354.50,222.51 L355.00,222.52 L355.50,222.53 L356.00,222.54 L356.50,222.54 L357.00,222.55 L357.50,222.56 L358.00,222.57 L358.50,222.58 L359.00,222.58 L359.50,222.59 L360.00,222.60 L360.50,222.61 L361.00,222.61 L361.50,222.62 L362.00,222.63 L362.50,222.64 L363.00,222.64 L363.50,222.65 L364.00,222.66 L364.50,222.66 L365.00,222.67 L365.50,222.68 L366.00,222.69 L366.50,222.69 L367.00,222.70 L367.50,222.71 L368.00,222.71 L368.50,222.72 L369.00,222.72 L369.50,222.73 L370.00,222.74 L370.50,222.74 L371.00,222.75 L371.50,222.75 L372.00,222.76 L372.50,222.76 L373.00,222.77 L373.50,222.77 L374.00,222.78 L374.50,222.78 L375.00,222.79 L375.50,222.79 L376.00,222.80 L376.50,222.80 L377.00,222.81 L377.50,222.81 L378.00,222.82 L378.50,222.82 L379.00,222.82 L379.50,222.83 L380.00,222.83 L380.50,222.83 L381.00,222.84 L381.50,222.84 L382.00,222.84 L382.50,222.85 L383.00,222.85 L383.50,222.85 L384.00,222.85 L384.50,222.86 L385.00,222.86 L385.50,222.86 L386.00,222.86 L386.50,222.86 L387.00,222.86 L387.50,222.87 L388.00,222.87 L388.50,222.87 L389.00,222.87 L389.50,222.87 L390.00,222.87 L390.50,222.87 L391.00,222.87 L391.50,222.88 L392.00,222.88 L392.50,222.88 L393.00,222.88 L393.50,222.88 L394.00,222.88 L394.50,222.88 L395.00,222.88 L395.50,222.88 L396.00,222.88 L396.50,222.89 L397.00,222.89 L397.50,222.89 L398.00,222.89 L398.50,222.89 L399.00,222.89 L399.50,222.89 L400.00,222.89 L400.50,222.89 L401.00,222.89 L401.50,222.89 L402.00,222.90 L402.50,222.90 L403.00,222.90 L403.20,222.90"/>
<path d="M54.00,222.89 L54.50,222.89 L55.00,222.89 L55.50,222.89 L56.00,222.89 L56.50,222.89 L57.00,222.89 L57.50,222.89 L58.00,222.89 L58.50,222.89 L59.00,222.89 L59.50,222.89 L60.00,222.89 L60.50,222.88 L61.00,222.88 L61.50,222.88 L62.00,222.88 L62.50,222.88 L63.00,222.88 L63.50,222.88 L64.00,222.88 L64.50,222.88 L65.00,222.88 L65.50,222.88 L66.00,222.88 L66.50,222.88 L67.00,222.88 L67.50,222.87 L68.00,222.87 L68.50,222.87 L69.00,222.87 L69.50,222.87 L70.00,222.87 L70.50,222.87 L71.00,222.87 L71.50,222.87 L72.00,222.87 L72.50,222.86 L73.00,222.86 L73.50,222.86 L74.00,222.86 L74.50,222.86 L75.00,222.86 L75.50,222.86 L76.00,222.85 L76.50,222.85 L77.00,222.85 L77.50,222.85 L78.00,222.85 L78.50,222.84 L79.00,222.84 L79.50,222.84 L80.00,222.84 L80.50,222.84 L81.00,222.83 L81.50,222.83 L82.00,222.83 L82.50,222.83 L83.00,222.82 L83.50,222.82 L84.00,222.82 L84.50,222.81 L85.00,222.81 L85.50,222.81 L86.00,222.80 L86.50,222.80 L87.00,222.80 L87.50,222.79 L88.00,222.79 L88.50,222.79 L89.00,222.78 L89.50,222.78 L90.00,222.77 L90.50,222.77 L91.00,222.76 L91.50,222.76 L92.00,222.75 L92.50,222.75 L93.00,222.74 L93.50,222.74 L94.00,222.73 L94.50,222.72 L95.00,222.72 L95.50,222.71 L96.00,222.70 L96.50,222.70 L97.00,222.69 L97.50,222.68 L98.00,222.67 L98.50,222.67 L99.00,222.66 L99.50,222.65 L100.00,222.64 L100.50,222.63 L101.00,222.62 L101.50,222.61 L102.00,222.60 L102.50,222.59 L103.00,222.58 L103.50,222.56 L104.00,222.55 L104.50,222.54 L105.00,222.53 L105.50,222.51 L106.00,222.50 L106.50,222.48 L107.00,222.47 L107.50,222.45 L108.00,222.44 L108.50,222.42 L109.00,222.40 L109.50,222.38 L110.00,222.37 L110.50,222.35 L111.00,222.33 L111.50,222.30 L112.00,222.28 L112.50,222.26 L113.00,222.24 L113.50,222.21 L114.00,222.19 L114.50,222.16 L115.00,222.13 L115.50,222.11 L116.00,222.08 L116.50,222.05 L117.00,222.02 L117.50,221.98 L118.00,221.95 L118.50,221.92 L119.00,221.88 L119.50,221.84 L120.00,221.80 L120.50,221.76 L121.00,221.72 L121.50,221.68 L122.00,221.63 L122.50,221.59 L123.00,221.54 L123.50,221.49 L124.00,221.44 L124.50,221.39 L125.00,221.35 L125.50,221.30 L126.00,221.25 L126.50,221.20 L127.00,221.15 L127.50,221.10 L128.00,221.04 L128.50,220.99 L129.00,220.93 L129.50,220.87 L130.00,220.80 L130.50,220.74 L131.00,220.67 L131.50,220.60 L132.00,220.53 L132.50,220.46 L133.00,220.38 L133.50,220.30 L134.00,220.22 L134.50,220.14 L135.00,220.05 L135.50,219.96 L136.00,219.87 L136.50,219.77 L137.00,219.67 L137.50,219.57 L138.00,219.46 L138.50,219.35 L139.00,219.24 L139.50,219.12 L140.00,219.00 L140.50,218.87 L141.00,218.74 L141.50,218.61 L142.00,218.47 L142.50,218.33 L143.00,218.18 L143.50,218.03 L144.00,217.87 L144.50,217.70 L145.00,217.53 L145.50,217.36 L146.00,217.17 L146.50,216.98 L147.00,216.79 L147.50,216.59 L148.00,216.38 L148.50,216.16 L149.00,215.94 L149.50,215.71 L150.00,215.47 L150.50,215.22 L151.00,214.96 L151.50,214.70 L152.00,214.42 L152.50,214.14 L153.00,213.85 L153.50,213.54 L154.00,213.23 L154.50,212.90 L155.00,212.56 L155.50,212.21 L156.00,211.85 L156.50,211.48 L157.00,211.09 L157.50,210.69 L158.00,210.27 L158.50,209.84 L159.00,209.40 L159.50,208.94 L160.00,208.46 L160.50,207.97 L161.00,207.46 L161.50,206.93 L162.00,206.38 L162.50,205.81 L163.00,205.23 L163.50,204.62 L164.00,203.99 L164.50,203.35 L165.00,202.67 L165.50,201.98 L166.00,201.26 L166.50,200.52 L167.00,199.75 L167.50,198.95 L168.00,198.13 L168.50,197.28 L169.00,196.40 L169.50,195.49 L170.00,194.55 L170.50,193.58 L171.00,192.58 L171.50,191.54 L172.00,190.47 L172.50,189.36 L173.00,188.22 L173.50,187.04 L174.00,185.82 L174.50,184.56 L175.00,183.20 L175.50,181.77 L176.00,180.28 L176.50,178.75 L177.00,177.17 L177.50,175.54 L178.00,173.87 L178.50,172.14 L179.00,170.36 L179.50,168.53 L180.00,166.65 L180.50,164.71 L181.00,162.72 L181.50,160.67 L182.00,158.57 L182.50,156.42 L183.00,154.21 L183.50,151.94 L184.00,149.62 L184.50,147.24 L185.00,144.80 L185.50,142.31 L186.00,139.76 L186.50,137.16 L187.00,134.51 L187.50,131.80 L188.00,129.04 L188.50,126.23 L189.00,123.37 L189.50,120.47 L190.00,117.51 L190.50,114.52 L191.00,111.48 L191.50,108.40 L192.00,105.29 L192.50,102.14 L193.00,98.97 L193.50,95.76 L194.00,92.54 L194.50,89.30 L195.00,86.04 L195.50,82.77 L196.00,79.49 L196.50,76.22 L197.00,72.95 L197.50,69.69 L198.00,66.45 L198.50,63.23 L199.00,60.04 L199.50,56.88 L200.00,53.76 L200.50,50.69 L201.00,47.67 L201.50,44.71 L202.00,41.82 L202.50,39.00 L203.00,36.27 L203.50,33.62 L204.00,31.06 L204.50,28.61 L205.00,26.26 L205.50,24.02 L206.00,21.91 L206.50,19.92 L207.00,18.06 L207.50,16.34 L208.00,14.76 L208.50,13.32 L209.00,12.04 L209.50,10.91 L210.00,9.93 L210.50,9.12 L211.00,8.47 L211.50,7.98 L212.00,7.66 L212.50,7.51 L213.00,7.50 L213.50,7.50 L214.00,7.50 L214.50,7.50 L215.00,7.50 L215.50,7.50 L216.00,7.52 L216.50,7.62 L217.00,7.76 L217.50,8.08 L218.00,8.49 L218.50,9.02 L219.00,9.66 L219.50,10.40 L220.00,11.25 L220.50,12.22 L221.00,13.27 L221.50,14.44 L222.00,15.70 L222.50,17.06 L223.00,18.51 L223.50,20.05 L224.00,21.68 L224.50,23.40 L225.00,25.19 L225.50,27.07 L226.00,29.01 L226.50,31.03 L227.00,33.12 L227.50,35.28 L228.00,37.49 L228.50,39.76 L229.00,42.08 L229.50,44.45 L230.00,46.87 L230.50,49.33 L231.00,51.82 L231.50,54.35 L232.00,56.91 L232.50,59.50 L233.00,62.12 L233.50,64.75 L234.00,67.40 L234.50,70.06 L235.00,72.73 L235.50,75.42 L236.00,78.10 L236.50,80.79 L237.00,83.47 L237.50,86.15 L238.00,88.82 L238.50,91.49 L239.00,94.14 L239.50,96.78 L240.00,99.40 L240.50,102.01 L241.00,104.59 L241.50,107.15 L242.00,109.69 L242.50,112.20 L243.00,114.69 L243.50,117.15 L244.00,119.58 L244.50,121.98 L245.00,124.35 L245.50,126.68 L246.00,128.99 L246.50,131.25 L247.00,133.49 L247.50,135.68 L248.00,137.85 L248.50,139.97 L249.00,142.06 L249.50,144.11 L250.00,146.13 L250.50,148.10 L251.00,150.04 L251.50,151.94 L252.00,153.81 L252.50,155.63 L253.00,157.42 L253.50,159.17 L254.00,160.89 L254.50,162.56 L255.00,164.20 L255.50,165.81 L256.00,167.38 L256.50,168.91 L257.00,170.41 L257.50,171.90 L258.00,173.35 L258.50,174.75 L259.00,176.09 L259.50,177.40 L260.00,178.66 L260.50,179.88 L261.00,181.07 L261.50,182.21 L262.00,183.32 L262.50,184.40 L263.00,185.45 L263.50,186.46 L264.00,187.44 L264.50,188.40 L265.00,189.33 L265.50,190.24 L266.00,191.14 L266.50,192.04 L267.00,192.93 L267.50,193.79 L268.00,194.63 L268.50,195.44 L269.00,196.23 L269.50,197.00 L270.00,197.74 L270.50,198.46 L271.00,199.16 L271.50,199.84 L272.00,200.50 L272.50,201.14 L273.00,201.76 L273.50,202.36 L274.00,202.95 L274.50,203.52 L275.00,204.07 L275.50,204.61 L276.00,205.13 L276.50,205.65 L277.00,206.15 L277.50,206.65 L278.00,207.14 L278.50,207.61 L279.00,208.07 L279.50,208.52 L280.00,208.95 L280.50,209.38 L281.00,209.79 L281.50,210.19 L282.00,210.58 L282.50,210.96 L283.00,211.33 L283.50,211.69 L284.00,212.04 L284.50,212.38 L285.00,212.71 L285.50,213.03 L286.00,213.32 L286.50,213.60 L287.00,213.87 L287.50,214.13 L288.00,214.38 L288.50,214.63 L289.00,214.86 L289.50,215.07 L290.00,215.26 L290.50,215.44 L291.00,215.62 L291.50,215.79 L292.00,215.96 L292.50,216.13 L293.00,216.29 L293.50,216.45 L294.00,216.61 L294.50,216.76 L295.00,216.91 L295.50,217.06 L296.00,217.20 L296.50,217.35 L297.00,217.52 L297.50,217.68 L298.00,217.84 L298.50,218.00 L299.00,218.14 L299.50,218.29 L300.00,218.43 L300.50,218.57 L301.00,218.70 L301.50,218.80 L302.00,218.90 L302.50,218.98 L303.00,219.06 L303.50,219.14 L304.00,219.22 L304.50,219.29 L305.00,219.37 L305.50,219.45 L306.00,219.53 L306.50,219.61 L307.00,219.68 L307.50,219.76 L308.00,219.83 L308.50,219.90 L309.00,219.97 L309.50,220.03 L310.00,220.10 L310.50,220.16 L311.00,220.22 L311.50,220.29 L312.00,220.35 L312.50,220.40 L313.00,220.45 L313.50,220.51 L314.00,220.55 L314.50,220.60 L315.00,220.64 L315.50,220.68 L316.00,220.72 L316.50,220.76 L317.00,220.80 L317.50,220.84 L318.00,220.88 L318.50,220.92 L319.00,220.96 L319.50,220.99 L320.00,221.03 L320.50,221.06 L321.00,221.10 L321.50,221.13 L322.00,221.17 L322.50,221.20 L323.00,221.23 L323.50,221.26 L324.00,221.29 L324.50,221.32 L325.00,221.35 L325.50,221.38 L326.00,221.41 L326.50,221.43 L327.00,221.46 L327.50,221.48 L328.00,221.51 L328.50,221.53 L329.00,221.55 L329.50,221.58 L330.00,221.60 L330.50,221.62 L331.00,221.64 L331.50,221.67 L332.00,221.69 L332.50,221.71 L333.00,221.73 L333.50,221.75 L334.00,221.77 L334.50,221.79 L335.00,221.81 L335.50,221.83 L336.00,221.84 L336.50,221.86 L337.00,221.88 L337.50,221.90 L338.00,221.91 L338.50,221.93 L339.00,221.96 L339.50,221.98 L340.00,222.01 L340.50,222.03 L341.00,222.05 L341.50,222.07 L342.00,222.10 L342.50,222.12 L343.00,222.14 L343.50,222.16 L344.00,222.18 L344.50,222.19 L345.00,222.21 L345.50,222.23 L346.00,222.25 L346.50,222.27 L347.00,222.28 L347.50,222.30 L348.00,222.31 L348.50,222.33 L349.00,222.34 L349.50,222.36 L350.00,222.37 L350.50,222.39 L351.00,222.40 L351.50,222.41 L352.00,222.42 L352.50,222.44 L353.00,222.45 L353.50,222.46 L354.00,222.47 L354.50,222.48 L355.00,222.49 L355.50,222.51 L356.00,222.52 L356.50,222.52 L357.00,222.53 L357.50,222.54 L358.00,222.55 L358.50,222.56 L359.00,222.57 L359.50,222.57 L360.00,222.58 L360.50,222.59 L361.00,222.60 L361.50,222.60 L362.00,222.61 L362.50,222.62 L363.00,222.63 L363.50,222.64 L364.00,222.64 L364.50,222.65 L365.00,222.66 L365.50,222.67 L366.00,222.67 L366.50,222.68 L367.00,222.69 L367.50,222.69 L368.00,222.70 L368.50,222.71 L369.00,222.71 L369.50,222.72 L370.00,222.73 L370.50,222.73 L371.00,222.74 L371.50,222.75 L372.00,222.75 L372.50,222.76 L373.00,222.76 L373.50,222.77 L374.00,222.77 L374.50,222.78 L375.00,222.79 L375.50,222.79 L376.00,222.80 L376.50,222.80 L377.00,222.80 L377.50,222.81 L378.00,222.81 L378.50,222.82 L379.00,222.82 L379.50,222.83 L380.00,222.83 L380.50,222.83 L381.00,222.84 L381.50,222.84 L382.00,222.84 L382.50,222.85 L383.00,222.85 L383.50,222.85 L384.00,222.85 L384.50,222.86 L385.00,222.86 L385.50,222.86 L386.00,222.86 L386.50,222.86 L387.00,222.86 L387.50,222.87 L388.00,222.87 L388.50,222.87 L389.00,222.87 L389.50,222.87 L390.00,222.87 L390.50,222.87 L391.00,222.87 L391.50,222.88 L392.00,222.88 L392.50,222.88 L393.00,222.88 L393.50,222.88 L394.00,222.88 L394.50,222.88 L395.00,222.88 L395.50,222.88 L396.00,222.88 L396.50,222.89 L397.00,222.89 L397.50,222.89 L398.00,222.89 L398.50,222.89 L399.00,222.89 L399.50,222.89 L400.00,222.89 L400.50,222.89 L401.00,222.89 L401.50,222.89 L402.00,222.90 L402.50,222.90 L403.00,222.90 L403.20,222.90"/>
<path d="M54.00,222.90 L54.50,222.90 L55.00,222.90 L55.50,222.90 L56.00,222.90 L56.50,222.89 L57.00,222.89 L57.50,222.89 L58.00,222.89 L58.50,222.89 L59.00,222.89 L59.50,222.89 L60.00,222.89 L60.50,222.89 L61.00,222.89 L61.50,222.89 L62.00,222.89 L62.50,222.89 L63.00,222.89 L63.50,222.89 L64.00,222.89 L64.50,222.89 L65.00,222.89 L65.50,222.89 L66.00,222.89 L66.50,222.89 L67.00,222.89 L67.50,222.89 L68.00,222.89 L68.50,222.89 L69.00,222.89 L69.50,222.89 L70.00,222.89 L70.50,222.89 L71.00,222.88 L71.50,222.88 L72.00,222.88 L72.50,222.88 L73.00,222.88 L73.50,222.88 L74.00,222.88 L74.50,222.88 L75.00,222.88 L75.50,222.88 L76.00,222.88 L76.50,222.88 L77.00,222.88 L77.50,222.88 L78.00,222.87 L78.50,222.87 L79.00,222.87 L79.50,222.87 L80.00,222.87 L80.50,222.87 L81.00,222.87 L81.50,222.87 L82.00,222.87 L82.50,222.87 L83.00,222.86 L83.50,222.86 L84.00,222.86 L84.50,222.86 L85.00,222.86 L85.50,222.86 L86.00,222.85 L86.50,222.85 L87.00,222.85 L87.50,222.85 L88.00,222.85 L88.50,222.85 L89.00,222.84 L89.50,222.84 L90.00,222.84 L90.50,222.84 L91.00,222.83 L91.50,222.83 L92.00,222.83 L92.50,222.83 L93.00,222.82 L93.50,222.82 L94.00,222.82 L94.50,222.82 L95.00,222.81 L95.50,222.81 L96.00,222.81 L96.50,222.80 L97.00,222.80 L97.50,222.80 L98.00,222.79 L98.50,222.79 L99.00,222.78 L99.50,222.78 L100.00,222.77 L100.50,222.77 L101.00,222.76 L101.50,222.76 L102.00,222.75 L102.50,222.75 L103.00,222.74 L103.50,222.74 L104.00,222.73 L104.50,222.72 L105.00,222.72 L105.50,222.71 L106.00,222.70 L106.50,222.70 L107.00,222.69 L107.50,222.68 L108.00,222.67 L108.50,222.67 L109.00,222.66 L109.50,222.65 L110.00,222.64 L110.50,222.63 L111.00,222.62 L111.50,222.61 L112.00,222.60 L112.50,222.59 L113.00,222.57 L113.50,222.56 L114.00,222.55 L114.50,222.54 L115.00,222.52 L115.50,222.51 L116.00,222.49 L116.50,222.48 L117.00,222.46 L117.50,222.45 L118.00,222.43 L118.50,222.41 L119.00,222.39 L119.50,222.37 L120.00,222.35 L120.50,222.33 L121.00,222.31 L121.50,222.29 L122.00,222.27 L122.50,222.25 L123.00,222.22 L123.50,222.20 L124.00,222.17 L124.50,222.14 L125.00,222.11 L125.50,222.08 L126.00,222.05 L126.50,222.02 L127.00,221.99 L127.50,221.96 L128.00,221.92 L128.50,221.88 L129.00,221.85 L129.50,221.81 L130.00,221.77 L130.50,221.72 L131.00,221.68 L131.50,221.63 L132.00,221.59 L132.50,221.54 L133.00,221.49 L133.50,221.44 L134.00,221.39 L134.50,221.34 L135.00,221.29 L135.50,221.25 L136.00,221.19 L136.50,221.14 L137.00,221.09 L137.50,221.03 L138.00,220.97 L138.50,220.91 L139.00,220.85 L139.50,220.78 L140.00,220.72 L140.50,220.65 L141.00,220.58 L141.50,220.50 L142.00,220.43 L142.50,220.35 L143.00,220.27 L143.50,220.18 L144.00,220.09 L144.50,220.00 L145.00,219.91 L145.50,219.81 L146.00,219.71 L146.50,219.61 L147.00,219.50 L147.50,219.39 L148.00,219.28 L148.50,219.16 L149.00,219.04 L149.50,218.91 L150.00,218.78 L150.50,218.64 L151.00,218.50 L151.50,218.36 L152.00,218.21 L152.50,218.05 L153.00,217.89 L153.50,217.72 L154.00,217.55 L154.50,217.37 L155.00,217.18 L155.50,216.99 L156.00,216.79 L156.50,216.59 L157.00,216.37 L157.50,216.15 L158.00,215.92 L158.50,215.69 L159.00,215.44 L159.50,215.19 L160.00,214.92 L160.50,214.65 L161.00,214.37 L161.50,214.08 L162.00,213.78 L162.50,213.46 L163.00,213.14 L163.50,212.80 L164.00,212.45 L164.50,212.09 L165.00,211.72 L165.50,211.33 L166.00,210.93 L166.50,210.52 L167.00,210.09 L167.50,209.64 L168.00,209.18 L168.50,208.70 L169.00,208.21 L169.50,207.69 L170.00,207.16 L170.50,206.61 L171.00,206.04 L171.50,205.45 L172.00,204.84 L172.50,204.21 L173.00,203.56 L173.50,202.88 L174.00,202.18 L174.50,201.45 L175.00,200.70 L175.50,199.92 L176.00,199.11 L176.50,198.28 L177.00,197.42 L177.50,196.52 L178.00,195.60 L178.50,194.65 L179.00,193.66 L179.50,192.64 L180.00,191.58 L180.50,190.49 L181.00,189.36 L181.50,188.19 L182.00,186.98 L182.50,185.74 L183.00,184.45 L183.50,183.06 L184.00,181.58 L184.50,180.06 L185.00,178.49 L185.50,176.87 L186.00,175.20 L186.50,173.48 L187.00,171.70 L187.50,169.88 L188.00,167.99 L188.50,166.06 L189.00,164.06 L189.50,162.01 L190.00,159.91 L190.50,157.74 L191.00,155.52 L191.50,153.24 L192.00,150.90 L192.50,148.50 L193.00,146.05 L193.50,143.54 L194.00,140.97 L194.50,138.34 L195.00,135.65 L195.50,132.91 L196.00,130.12 L196.50,127.27 L197.00,124.37 L197.50,121.42 L198.00,118.43 L198.50,115.38 L199.00,112.29 L199.50,109.16 L200.00,106.00 L200.50,102.79 L201.00,99.56 L201.50,96.30 L202.00,93.01 L202.50,89.70 L203.00,86.38 L203.50,83.04 L204.00,79.70 L204.50,76.36 L205.00,73.03 L205.50,69.70 L206.00,66.40 L206.50,63.11 L207.00,59.85 L207.50,56.63 L208.00,53.46 L208.50,50.33 L209.00,47.26 L209.50,44.25 L210.00,41.31 L210.50,38.45 L211.00,35.68 L211.50,33.00 L212.00,30.41 L212.50,27.94 L213.00,25.58 L213.50,23.33 L214.00,21.22 L214.50,19.23 L215.00,17.39 L215.50,15.69 L216.00,14.13 L216.50,12.73 L217.00,11.49 L217.50,10.42 L218.00,9.50 L218.50,8.76 L219.00,8.18 L219.50,7.78 L220.00,7.56 L220.50,7.50 L221.00,7.50 L221.50,7.50 L222.00,7.50 L222.50,7.50 L223.00,7.55 L223.50,7.68 L224.00,7.89 L224.50,8.32 L225.00,8.85 L225.50,9.55 L226.00,10.36 L226.50,11.32 L227.00,12.40 L227.50,13.62 L228.00,14.95 L228.50,16.42 L229.00,17.99 L229.50,19.69 L230.00,21.49 L230.50,23.41 L231.00,25.42 L231.50,27.53 L232.00,29.73 L232.50,32.02 L233.00,34.39 L233.50,36.84 L234.00,39.36 L234.50,41.95 L235.00,44.60 L235.50,47.30 L236.00,50.06 L236.50,52.87 L237.00,55.71 L237.50,58.59 L238.00,61.50 L238.50,64.44 L239.00,67.40 L239.50,70.37 L240.00,73.36 L240.50,76.36 L241.00,79.36 L241.50,82.36 L242.00,85.36 L242.50,88.35 L243.00,91.32 L243.50,94.29 L244.00,97.23 L244.50,100.16 L245.00,103.06 L245.50,105.94 L246.00,108.78 L246.50,111.60 L247.00,114.39 L247.50,117.14 L248.00,119.85 L248.50,122.52 L249.00,125.16 L249.50,127.75 L250.00,130.31 L250.50,132.81 L251.00,135.28 L251.50,137.70 L252.00,140.08 L252.50,142.40 L253.00,144.69 L253.50,146.92 L254.00,149.11 L254.50,151.26 L255.00,153.35 L255.50,155.40 L256.00,157.40 L256.50,159.35 L257.00,161.26 L257.50,163.13 L258.00,164.94 L258.50,166.71 L259.00,168.44 L259.50,170.12 L260.00,171.71 L260.50,173.23 L261.00,174.71 L261.50,176.14 L262.00,177.52 L262.50,178.86 L263.00,180.16 L263.50,181.41 L264.00,182.63 L264.50,183.81 L265.00,184.95 L265.50,186.06 L266.00,187.13 L266.50,188.17 L267.00,189.19 L267.50,190.18 L268.00,191.15 L268.50,192.12 L269.00,193.07 L269.50,193.99 L270.00,194.89 L270.50,195.75 L271.00,196.58 L271.50,197.39 L272.00,198.18 L272.50,198.94 L273.00,199.68 L273.50,200.39 L274.00,201.08 L274.50,201.75 L275.00,202.40 L275.50,203.03 L276.00,203.64 L276.50,204.23 L277.00,204.80 L277.50,205.36 L278.00,205.92 L278.50,206.46 L279.00,207.00 L279.50,207.52 L280.00,208.02 L280.50,208.51 L281.00,208.98 L281.50,209.44 L282.00,209.88 L282.50,210.31 L283.00,210.73 L283.50,211.13 L284.00,211.52 L284.50,211.90 L285.00,212.27 L285.50,212.63 L286.00,212.97 L286.50,213.28 L287.00,213.58 L287.50,213.86 L288.00,214.13 L288.50,214.39 L289.00,214.65 L289.50,214.89 L290.00,215.10 L290.50,215.29 L291.00,215.47 L291.50,215.65 L292.00,215.83 L292.50,216.00 L293.00,216.17 L293.50,216.34 L294.00,216.50 L294.50,216.65 L295.00,216.81 L295.50,216.96 L296.00,217.10 L296.50,217.25 L297.00,217.41 L297.50,217.57 L298.00,217.74 L298.50,217.90 L299.00,218.05 L299.50,218.20 L300.00,218.34 L300.50,218.48 L301.00,218.62 L301.50,218.75 L302.00,218.85 L302.50,218.93 L303.00,219.02 L303.50,219.10 L304.00,219.17 L304.50,219.25 L305.00,219.33 L305.50,219.41 L306.00,219.49 L306.50,219.56 L307.00,219.64 L307.50,219.71 L308.00,219.78 L308.50,219.85 L309.00,219.92 L309.50,219.99 L310.00,220.05 L310.50,220.12 L311.00,220.18 L311.50,220.24 L312.00,220.30 L312.50,220.36 L313.00,220.42 L313.50,220.47 L314.00,220.52 L314.50,220.56 L315.00,220.61 L315.50,220.65 L316.00,220.69 L316.50,220.73 L317.00,220.77 L317.50,220.81 L318.00,220.85 L318.50,220.89 L319.00,220.92 L319.50,220.96 L320.00,221.00 L320.50,221.03 L321.00,221.07 L321.50,221.10 L322.00,221.13 L322.50,221.17 L323.00,221.20 L323.50,221.23 L324.00,221.26 L324.50,221.29 L325.00,221.32 L325.50,221.35 L326.00,221.38 L326.50,221.40 L327.00,221.43 L327.50,221.45 L328.00,221.48 L328.50,221.50 L329.00,221.52 L329.50,221.55 L330.00,221.57 L330.50,221.59 L331.00,221.62 L331.50,221.64 L332.00,221.66 L332.50,221.68 L333.00,221.70 L333.50,221.72 L334.00,221.74 L334.50,221.76 L335.00,221.78 L335.50,221.80 L336.00,221.82 L336.50,221.84 L337.00,221.85 L337.50,221.87 L338.00,221.89 L338.50,221.90 L339.00,221.92 L339.50,221.94 L340.00,221.97 L340.50,221.99 L341.00,222.02 L341.50,222.04 L342.00,222.06 L342.50,222.08 L343.00,222.10 L343.50,222.12 L344.00,222.14 L344.50,222.16 L345.00,222.18 L345.50,222.20 L346.00,222.22 L346.50,222.24 L347.00,222.25 L347.50,222.27 L348.00,222.29 L348.50,222.30 L349.00,222.32 L349.50,222.33 L350.00,222.35 L350.50,222.36 L351.00,222.38 L351.50,222.39 L352.00,222.40 L352.50,222.41 L353.00,222.43 L353.50,222.44 L354.00,222.45 L354.50,222.46 L355.00,222.47 L355.50,222.49 L356.00,222.50 L356.50,222.51 L357.00,222.52 L357.50,222.53 L358.00,222.53 L358.50,222.54 L359.00,222.55 L359.50,222.56 L360.00,222.57 L360.50,222.57 L361.00,222.58 L361.50,222.59 L362.00,222.60 L362.50,222.61 L363.00,222.61 L363.50,222.62 L364.00,222.63 L364.50,222.64 L365.00,222.65 L365.50,222.65 L366.00,222.66 L366.50,222.67 L367.00,222.68 L367.50,222.68 L368.00,222.69 L368.50,222.70 L369.00,222.71 L369.50,222.71 L370.00,222.72 L370.50,222.73 L371.00,222.73 L371.50,222.74 L372.00,222.75 L372.50,222.75 L373.00,222.76 L373.50,222.76 L374.00,222.77 L374.50,222.78 L375.00,222.78 L375.50,222.79 L376.00,222.79 L376.50,222.80 L377.00,222.80 L377.50,222.81 L378.00,222.81 L378.50,222.82 L379.00,222.82 L379.50,222.82 L380.00,222.83 L380.50,222.83 L381.00,222.84 L381.50,222.84 L382.00,222.84 L382.50,222.85 L383.00,222.85 L383.50,222.85 L384.00,222.85 L384.50,222.85 L385.00,222.86 L385.50,222.86 L386.00,222.86 L386.50,222.86 L387.00,222.86 L387.50,222.87 L388.00,222.87 L388.50,222.87 L389.00,222.87 L389.50,222.87 L390.00,222.87 L390.50,222.87 L391.00,222.87 L391.50,222.88 L392.00,222.88 L392.50,222.88 L393.00,222.88 L393.50,222.88 L394.00,222.88 L394.50,222.88 L395.00,222.88 L395.50,222.88 L396.00,222.88 L396.50,222.89 L397.00,222.89 L397.50,222.89 L398.00,222.89 L398.50,222.89 L399.00,222.89 L399.50,222.89 L400.00,222.89 L400.50,222.89 L401.00,222.89 L401.50,222.89 L402.00,222.90 L402.50,222.90 L403.00,222.90 L403.20,222.90"/>
<path d="M54.00,222.90 L54.50,222.90 L55.00,222.90 L55.50,222.90 L56.00,222.90 L56.50,222.90 L57.00,222.90 L57.50,222.90 L58.00,222.90 L58.50,222.90 L59.00,222.90 L59.50,222.90 L60.00,222.90 L60.50,222.90 L61.00,222.90 L61.50,222.90 L62.00,222.90 L62.50,222.90 L63.00,222.90 L63.50,222.90 L64.00,222.90 L64.50,222.90 L65.00,222.90 L65.50,222.90 L66.00,222.90 L66.50,222.90 L67.00,222.90 L67.50,222.90 L68.00,222.90 L68.50,222.90 L69.00,222.90 L69.50,222.90 L70.00,222.90 L70.50,222.90 L71.00,222.90 L71.50,222.90 L72.00,222.90 L72.50,222.89 L73.00,222.89 L73.50,222.89 L74.00,222.89 L74.50,222.89 L75.00,222.89 L75.50,222.89 L76.00,222.89 L76.50,222.89 L77.00,222.89 L77.50,222.89 L78.00,222.89 L78.50,222.89 L79.00,222.89 L79.50,222.89 L80.00,222.89 L80.50,222.89 L81.00,222.89 L81.50,222.89 L82.00,222.89 L82.50,222.89 L83.00,222.89 L83.50,222.89 L84.00,222.89 L84.50,222.89 L85.00,222.89 L85.50,222.89 L86.00,222.89 L86.50,222.88 L87.00,222.88 L87.50,222.88 L88.00,222.88 L88.50,222.88 L89.00,222.88 L89.50,222.88 L90.00,222.88 L90.50,222.88 L91.00,222.88 L91.50,222.88 L92.00,222.88 L92.50,222.88 L93.00,222.87 L93.50,222.87 L94.00,222.87 L94.50,222.87 L95.00,222.87 L95.50,222.87 L96.00,222.87 L96.50,222.87 L97.00,222.87 L97.50,222.86 L98.00,222.86 L98.50,222.86 L99.00,222.86 L99.50,222.86 L100.00,222.86 L100.50,222.85 L101.00,222.85 L101.50,222.85 L102.00,222.85 L102.50,222.85 L103.00,222.84 L103.50,222.84 L104.00,222.84 L104.50,222.84 L105.00,222.84 L105.50,222.83 L106.00,222.83 L106.50,222.83 L107.00,222.82 L107.50,222.82 L108.00,222.82 L108.50,222.81 L109.00,222.81 L109.50,222.81 L110.00,222.80 L110.50,222.80 L111.00,222.80 L111.50,222.79 L112.00,222.79 L112.50,222.78 L113.00,222.78 L113.50,222.77 L114.00,222.77 L114.50,222.76 L115.00,222.76 L115.50,222.75 L116.00,222.75 L116.50,222.74 L117.00,222.74 L117.50,222.73 L118.00,222.72 L118.50,222.71 L119.00,222.71 L119.50,222.70 L120.00,222.69 L120.50,222.68 L121.00,222.68 L121.50,222.67 L122.00,222.66 L122.50,222.65 L123.00,222.64 L123.50,222.63 L124.00,222.62 L124.50,222.60 L125.00,222.59 L125.50,222.58 L126.00,222.57 L126.50,222.56 L127.00,222.54 L127.50,222.53 L128.00,222.51 L128.50,222.50 L129.00,222.48 L129.50,222.47 L130.00,222.45 L130.50,222.43 L131.00,222.41 L131.50,222.39 L132.00,222.37 L132.50,222.35 L133.00,222.33 L133.50,222.31 L134.00,222.28 L134.50,222.26 L135.00,222.23 L135.50,222.21 L136.00,222.18 L136.50,222.15 L137.00,222.12 L137.50,222.09 L138.00,222.06 L138.50,222.03 L139.00,221.99 L139.50,221.96 L140.00,221.92 L140.50,221.88 L141.00,221.84 L141.50,221.80 L142.00,221.75 L142.50,221.71 L143.00,221.66 L143.50,221.61 L144.00,221.56 L144.50,221.51 L145.00,221.46 L145.50,221.41 L146.00,221.36 L146.50,221.31 L147.00,221.26 L147.50,221.20 L148.00,221.14 L148.50,221.09 L149.00,221.02 L149.50,220.96 L150.00,220.90 L150.50,220.83 L151.00,220.76 L151.50,220.69 L152.00,220.61 L152.50,220.53 L153.00,220.45 L153.50,220.37 L154.00,220.28 L154.50,220.19 L155.00,220.10 L155.50,220.00 L156.00,219.91 L156.50,219.80 L157.00,219.69 L157.50,219.58 L158.00,219.47 L158.50,219.35 L159.00,219.22 L159.50,219.10 L160.00,218.96 L160.50,218.82 L161.00,218.68 L161.50,218.53 L162.00,218.38 L162.50,218.22 L163.00,218.05 L163.50,217.88 L164.00,217.70 L164.50,217.52 L165.00,217.32 L165.50,217.12 L166.00,216.92 L166.50,216.70 L167.00,216.48 L167.50,216.25 L168.00,216.01 L168.50,215.76 L169.00,215.50 L169.50,215.23 L170.00,214.95 L170.50,214.66 L171.00,214.36 L171.50,214.05 L172.00,213.73 L172.50,213.40 L173.00,213.05 L173.50,212.69 L174.00,212.31 L174.50,211.92 L175.00,211.52 L175.50,211.10 L176.00,210.67 L176.50,210.21 L177.00,209.75 L177.50,209.26 L178.00,208.75 L178.50,208.23 L179.00,207.69 L179.50,207.12 L180.00,206.54 L180.50,205.93 L181.00,205.30 L181.50,204.65 L182.00,203.97 L182.50,203.26 L183.00,202.53 L183.50,201.78 L184.00,200.99 L184.50,200.18 L185.00,199.33 L185.50,198.45 L186.00,197.55 L186.50,196.60 L187.00,195.63 L187.50,194.62 L188.00,193.57 L188.50,192.48 L189.00,191.35 L189.50,190.19 L190.00,188.98 L190.50,187.73 L191.00,186.44 L191.50,185.10 L192.00,183.69 L192.50,182.16 L193.00,180.57 L193.50,178.93 L194.00,177.24 L194.50,175.49 L195.00,173.68 L195.50,171.81 L196.00,169.89 L196.50,167.90 L197.00,165.85 L197.50,163.74 L198.00,161.57 L198.50,159.33 L199.00,157.03 L199.50,154.67 L200.00,152.24 L200.50,149.75 L201.00,147.19 L201.50,144.56 L202.00,141.88 L202.50,139.12 L203.00,136.31 L203.50,133.43 L204.00,130.50 L204.50,127.50 L205.00,124.44 L205.50,121.33 L206.00,118.17 L206.50,114.95 L207.00,111.69 L207.50,108.38 L208.00,105.03 L208.50,101.64 L209.00,98.22 L209.50,94.76 L210.00,91.28 L210.50,87.79 L211.00,84.28 L211.50,80.75 L212.00,77.23 L212.50,73.71 L213.00,70.20 L213.50,66.71 L214.00,63.24 L214.50,59.81 L215.00,56.42 L215.50,53.07 L216.00,49.78 L216.50,46.55 L217.00,43.40 L217.50,40.33 L218.00,37.34 L218.50,34.46 L219.00,31.68 L219.50,29.02 L220.00,26.47 L220.50,24.06 L221.00,21.79 L221.50,19.66 L222.00,17.69 L222.50,15.87 L223.00,14.22 L223.50,12.74 L224.00,11.44 L224.50,10.31 L225.00,9.37 L225.50,8.62 L226.00,8.06 L226.50,7.69 L227.00,7.52 L227.50,7.50 L228.00,7.50 L228.50,7.50 L229.00,7.50 L229.50,7.53 L230.00,7.69 L230.50,7.92 L231.00,8.42 L231.50,9.08 L232.00,9.93 L232.50,10.94 L233.00,12.13 L233.50,13.47 L234.00,14.98 L234.50,16.65 L235.00,18.47 L235.50,20.43 L236.00,22.53 L236.50,24.77 L237.00,27.13 L237.50,29.61 L238.00,32.21 L238.50,34.91 L239.00,37.70 L239.50,40.59 L240.00,43.56 L240.50,46.60 L241.00,49.72 L241.50,52.89 L242.00,56.11 L242.50,59.38 L243.00,62.69 L243.50,66.03 L244.00,69.40 L244.50,72.78 L245.00,76.17 L245.50,79.57 L246.00,82.97 L246.50,86.36 L247.00,89.74 L247.50,93.10 L248.00,96.45 L248.50,99.77 L249.00,103.05 L249.50,106.31 L250.00,109.53 L250.50,112.71 L251.00,115.84 L251.50,118.93 L252.00,121.97 L252.50,124.96 L253.00,127.90 L253.50,130.79 L254.00,133.62 L254.50,136.39 L255.00,139.10 L255.50,141.76 L256.00,144.36 L256.50,146.89 L257.00,149.37 L257.50,151.79 L258.00,154.14 L258.50,156.44 L259.00,158.68 L259.50,160.85 L260.00,162.97 L260.50,165.03 L261.00,167.06 L261.50,169.01 L262.00,170.80 L262.50,172.43 L263.00,174.00 L263.50,175.53 L264.00,177.01 L264.50,178.45 L265.00,179.84 L265.50,181.19 L266.00,182.50 L266.50,183.76 L267.00,184.98 L267.50,186.17 L268.00,187.32 L268.50,188.43 L269.00,189.52 L269.50,190.59 L270.00,191.64 L270.50,192.67 L271.00,193.67 L271.50,194.63 L272.00,195.56 L272.50,196.46 L273.00,197.33 L273.50,198.17 L274.00,198.98 L274.50,199.77 L275.00,200.53 L275.50,201.27 L276.00,201.98 L276.50,202.66 L277.00,203.33 L277.50,203.97 L278.00,204.59 L278.50,205.20 L279.00,205.80 L279.50,206.39 L280.00,206.98 L280.50,207.54 L281.00,208.09 L281.50,208.62 L282.00,209.12 L282.50,209.61 L283.00,210.08 L283.50,210.54 L284.00,210.98 L284.50,211.40 L285.00,211.81 L285.50,212.21 L286.00,212.59 L286.50,212.95 L287.00,213.28 L287.50,213.59 L288.00,213.88 L288.50,214.16 L289.00,214.43 L289.50,214.70 L290.00,214.94 L290.50,215.15 L291.00,215.34 L291.50,215.52 L292.00,215.71 L292.50,215.88 L293.00,216.06 L293.50,216.23 L294.00,216.39 L294.50,216.56 L295.00,216.71 L295.50,216.87 L296.00,217.02 L296.50,217.16 L297.00,217.31 L297.50,217.48 L298.00,217.65 L298.50,217.81 L299.00,217.97 L299.50,218.12 L300.00,218.27 L300.50,218.41 L301.00,218.55 L301.50,218.69 L302.00,218.80 L302.50,218.89 L303.00,218.97 L303.50,219.06 L304.00,219.13 L304.50,219.21 L305.00,219.29 L305.50,219.36 L306.00,219.44 L306.50,219.52 L307.00,219.60 L307.50,219.67 L308.00,219.74 L308.50,219.81 L309.00,219.88 L309.50,219.95 L310.00,220.01 L310.50,220.08 L311.00,220.14 L311.50,220.20 L312.00,220.26 L312.50,220.32 L313.00,220.38 L313.50,220.43 L314.00,220.48 L314.50,220.53 L315.00,220.58 L315.50,220.62 L316.00,220.66 L316.50,220.70 L317.00,220.74 L317.50,220.78 L318.00,220.82 L318.50,220.86 L319.00,220.90 L319.50,220.93 L320.00,220.97 L320.50,221.00 L321.00,221.04 L321.50,221.07 L322.00,221.11 L322.50,221.14 L323.00,221.17 L323.50,221.20 L324.00,221.23 L324.50,221.26 L325.00,221.29 L325.50,221.32 L326.00,221.35 L326.50,221.38 L327.00,221.40 L327.50,221.43 L328.00,221.45 L328.50,221.48 L329.00,221.50 L329.50,221.52 L330.00,221.55 L330.50,221.57 L331.00,221.59 L331.50,221.61 L332.00,221.63 L332.50,221.66 L333.00,221.68 L333.50,221.70 L334.00,221.72 L334.50,221.74 L335.00,221.76 L335.50,221.77 L336.00,221.79 L336.50,221.81 L337.00,221.83 L337.50,221.85 L338.00,221.86 L338.50,221.88 L339.00,221.90 L339.50,221.91 L340.00,221.93 L340.50,221.96 L341.00,221.98 L341.50,222.01 L342.00,222.03 L342.50,222.05 L343.00,222.07 L343.50,222.09 L344.00,222.11 L344.50,222.13 L345.00,222.15 L345.50,222.17 L346.00,222.19 L346.50,222.21 L347.00,222.23 L347.50,222.24 L348.00,222.26 L348.50,222.28 L349.00,222.29 L349.50,222.31 L350.00,222.32 L350.50,222.34 L351.00,222.35 L351.50,222.37 L352.00,222.38 L352.50,222.39 L353.00,222.41 L353.50,222.42 L354.00,222.43 L354.50,222.44 L355.00,222.46 L355.50,222.47 L356.00,222.48 L356.50,222.49 L357.00,222.50 L357.50,222.51 L358.00,222.52 L358.50,222.53 L359.00,222.54 L359.50,222.54 L360.00,222.55 L360.50,222.56 L361.00,222.57 L361.50,222.58 L362.00,222.59 L362.50,222.59 L363.00,222.60 L363.50,222.61 L364.00,222.62 L364.50,222.63 L365.00,222.63 L365.50,222.64 L366.00,222.65 L366.50,222.66 L367.00,222.67 L367.50,222.67 L368.00,222.68 L368.50,222.69 L369.00,222.70 L369.50,222.70 L370.00,222.71 L370.50,222.72 L371.00,222.73 L371.50,222.73 L372.00,222.74 L372.50,222.75 L373.00,222.75 L373.50,222.76 L374.00,222.76 L374.50,222.77 L375.00,222.78 L375.50,222.78 L376.00,222.79 L376.50,222.79 L377.00,222.80 L377.50,222.80 L378.00,222.81 L378.50,222.81 L379.00,222.82 L379.50,222.82 L380.00,222.83 L380.50,222.83 L381.00,222.83 L381.50,222.84 L382.00,222.84 L382.50,222.84 L383.00,222.85 L383.50,222.85 L384.00,222.85 L384.50,222.85 L385.00,222.86 L385.50,222.86 L386.00,222.86 L386.50,222.86 L387.00,222.86 L387.50,222.87 L388.00,222.87 L388.50,222.87 L389.00,222.87 L389.50,222.87 L390.00,222.87 L390.50,222.87 L391.00,222.87 L391.50,222.88 L392.00,222.88 L392.50,222.88 L393.00,222.88 L393.50,222.88 L394.00,222.88 L394.50,222.88 L395.00,222.88 L395.50,222.88 L396.00,222.88 L396.50,222.89 L397.00,222.89 L397.50,222.89 L398.00,222.89 L398.50,222.89 L399.00,222.89 L399.50,222.89 L400.00,222.89 L400.50,222.89 L401.00,222.89 L401.50,222.89 L402.00,222.90 L402.50,222.90 L403.00,222.90 L403.20,222.90"/>
<path d="M312,31.5 H333.7"/>
</g>
<g fill="none" stroke="#00ff00" stroke-width="1.3" stroke-dasharray="3.35 2.75" stroke-linejoin="round">
<path d="M57.00,222.25 L58.00,222.05 L59.00,221.84 L60.00,221.64 L61.00,221.44 L62.00,221.24 L63.00,221.03 L64.00,220.82 L65.00,220.60 L66.00,220.36 L67.00,220.12 L68.00,219.86 L69.00,219.59 L70.00,219.30 L71.00,218.99 L72.00,218.67 L73.00,218.33 L74.00,217.98 L75.00,217.62 L76.00,217.23 L77.00,216.82 L78.00,216.39 L79.00,215.93 L80.00,215.44 L81.00,214.92 L82.00,214.36 L83.00,213.77 L84.00,213.13 L85.00,212.46 L86.00,211.74 L87.00,210.97 L88.00,210.15 L89.00,209.09 L90.00,207.80 L91.00,206.29 L92.00,204.62 L93.00,202.82 L94.00,200.93 L95.00,198.99 L96.00,197.05 L97.00,195.05 L98.00,192.91 L99.00,190.60 L100.00,188.11 L101.00,185.42 L102.00,182.54 L103.00,179.46 L104.00,176.13 L105.00,172.49 L106.00,168.48 L107.00,164.05 L108.00,158.30 L109.00,152.01 L110.00,146.67 L111.00,141.78 L112.00,136.97 L113.00,132.22 L114.00,127.54 L115.00,122.91 L116.00,118.29 L117.00,113.65 L118.00,108.99 L119.00,104.31 L120.00,99.64 L121.00,94.97 L122.00,90.30 L123.00,85.62 L124.00,80.88 L125.00,76.06 L126.00,71.77 L127.00,68.01 L128.00,64.51 L129.00,61.10 L130.00,57.63 L131.00,54.20 L132.00,50.82 L133.00,47.49 L134.00,44.21 L135.00,40.91 L136.00,37.66 L137.00,34.60 L138.00,31.84 L139.00,29.17 L140.00,26.62 L141.00,24.28 L142.00,22.25 L143.00,20.62 L144.00,19.19 L145.00,17.92 L146.00,16.86 L147.00,16.03 L148.00,15.40 L149.00,14.79 L150.00,14.25 L151.00,13.80 L152.00,13.48 L153.00,13.33 L154.00,13.34 L155.00,13.45 L156.00,13.63 L157.00,13.85 L158.00,14.07 L159.00,14.29 L160.00,14.52 L161.00,14.78 L162.00,15.07 L163.00,15.38 L164.00,15.72 L165.00,16.09 L166.00,16.52 L167.00,17.00 L168.00,17.51 L169.00,18.05 L170.00,18.60 L171.00,19.18 L172.00,19.79 L173.00,20.42 L174.00,21.08 L175.00,21.77 L176.00,22.48 L177.00,23.21 L178.00,23.98 L179.00,24.79 L180.00,25.63 L181.00,26.52 L182.00,27.43 L183.00,28.38 L184.00,29.35 L185.00,30.35 L186.00,31.37 L187.00,32.44 L188.00,33.56 L189.00,34.70 L190.00,35.88 L191.00,37.09 L192.00,38.31 L193.00,39.56 L194.00,40.80 L195.00,42.02 L196.00,43.25 L197.00,44.54 L198.00,45.91 L199.00,47.41 L200.00,49.07 L201.00,51.01 L202.00,53.26 L203.00,55.77 L204.00,58.45 L205.00,61.24 L206.00,64.08 L207.00,66.88 L208.00,69.58 L209.00,72.12 L210.00,74.50 L211.00,76.79 L212.00,79.03 L213.00,81.22 L214.00,83.38 L215.00,85.55 L216.00,87.73 L217.00,89.94 L218.00,92.22 L219.00,94.57 L220.00,97.02 L221.00,99.59 L222.00,102.33 L223.00,105.28 L224.00,108.39 L225.00,111.63 L226.00,114.94 L227.00,118.28 L228.00,121.60 L229.00,124.86 L230.00,128.01 L231.00,131.01 L232.00,133.81 L233.00,136.43 L234.00,138.96 L235.00,141.44 L236.00,143.93 L237.00,146.51 L238.00,149.23 L239.00,151.91 L240.00,154.51 L241.00,157.04 L242.00,159.50 L243.00,161.88 L244.00,164.19 L245.00,166.42 L246.00,168.59 L247.00,170.76 L248.00,173.26 L249.00,175.62 L250.00,177.85 L251.00,179.97 L252.00,181.99 L253.00,183.92 L254.00,185.76 L255.00,187.51 L256.00,189.17 L257.00,190.75 L258.00,192.40 L259.00,194.06 L260.00,195.65 L261.00,197.15 L262.00,198.57 L263.00,199.91 L264.00,201.18 L265.00,202.37 L266.00,203.50 L267.00,204.58 L268.00,205.56 L269.00,206.46 L270.00,207.31 L271.00,208.12 L272.00,208.89 L273.00,209.61 L274.00,210.30 L275.00,210.96 L276.00,211.58 L277.00,212.17 L278.00,212.73 L279.00,213.26 L280.00,213.77 L281.00,214.25 L282.00,214.71 L283.00,215.14 L284.00,215.55 L285.00,215.94 L286.00,216.31 L287.00,216.65 L288.00,217.01 L289.00,217.42 L290.00,217.79 L291.00,218.12 L292.00,218.34 L293.00,218.56 L294.00,218.76 L295.00,218.96 L296.00,219.15 L297.00,219.33 L298.00,219.52 L299.00,219.73 L300.00,219.93 L301.00,220.12 L302.00,220.30 L303.00,220.46 L304.00,220.59 L305.00,220.70 L306.00,220.83 L307.00,220.97 L308.00,221.10 L309.00,221.23 L310.00,221.34 L311.00,221.45 L312.00,221.55 L313.00,221.64 L314.00,221.73 L315.00,221.81 L316.00,221.88 L317.00,221.95 L318.00,222.02 L319.00,222.08 L320.00,222.14 L321.00,222.19 L322.00,222.24 L323.00,222.28 L324.00,222.33 L325.00,222.37 L326.00,222.40 L327.00,222.44 L328.00,222.48 L329.00,222.51 L330.00,222.53 L331.00,222.54 L332.00,222.55 L333.00,222.57 L334.00,222.58 L335.00,222.59 L336.00,222.60 L337.00,222.61 L338.00,222.62 L339.00,222.63 L340.00,222.64 L341.00,222.65" stroke-dashoffset="3.07"/>
<path d="M78.00,222.23 L79.00,222.20 L80.00,222.17 L81.00,222.14 L82.00,222.10 L83.00,222.07 L84.00,222.03 L85.00,222.00 L86.00,221.96 L87.00,221.92 L88.00,221.88 L89.00,221.83 L90.00,221.78 L91.00,221.74 L92.00,221.68 L93.00,221.63 L94.00,221.57 L95.00,221.52 L96.00,221.45 L97.00,221.39 L98.00,221.32 L99.00,221.25 L100.00,221.18 L101.00,221.08 L102.00,220.96 L103.00,220.80 L104.00,220.62 L105.00,220.40 L106.00,220.16 L107.00,219.89 L108.00,219.60 L109.00,219.28 L110.00,218.94 L111.00,218.58 L112.00,218.20 L113.00,217.80 L114.00,217.38 L115.00,216.95 L116.00,216.50 L117.00,216.03 L118.00,215.56 L119.00,215.06 L120.00,214.49 L121.00,213.86 L122.00,213.16 L123.00,212.39 L124.00,211.56 L125.00,210.67 L126.00,209.71 L127.00,208.69 L128.00,207.61 L129.00,206.47 L130.00,205.27 L131.00,204.02 L132.00,202.70 L133.00,201.34 L134.00,199.91 L135.00,198.44 L136.00,196.91 L137.00,195.33 L138.00,193.46 L139.00,191.17 L140.00,188.61 L141.00,185.95 L142.00,183.28 L143.00,180.53 L144.00,177.70 L145.00,174.78 L146.00,171.76 L147.00,168.65 L148.00,165.43 L149.00,162.10 L150.00,158.67 L151.00,155.11 L152.00,151.44 L153.00,147.58 L154.00,143.43 L155.00,139.03 L156.00,134.44 L157.00,129.70 L158.00,124.87 L159.00,120.02 L160.00,115.20 L161.00,110.32 L162.00,105.29 L163.00,100.18 L164.00,95.07 L165.00,90.00 L166.00,85.04 L167.00,80.13 L168.00,75.20 L169.00,70.36 L170.00,65.71 L171.00,61.35 L172.00,57.27 L173.00,53.39 L174.00,49.72 L175.00,46.28 L176.00,43.42 L177.00,40.24 L178.00,34.43 L179.00,29.43 L180.00,25.59 L181.00,23.34 L182.00,21.59 L183.00,19.52 L184.00,17.04 L185.00,14.60 L186.00,12.53 L187.00,10.62 L188.00,9.22 L189.00,8.26 L190.00,7.60 L191.00,7.50 L192.00,7.50 L193.00,7.50 L194.00,7.50 L195.00,7.50 L196.00,7.50 L197.00,7.50 L198.00,7.68 L199.00,8.83 L200.00,10.46 L201.00,11.93 L202.00,13.37 L203.00,14.90 L204.00,16.52 L205.00,18.27 L206.00,20.17 L207.00,22.23 L208.00,24.42 L209.00,26.74 L210.00,29.16 L211.00,31.67 L212.00,34.30 L213.00,37.04 L214.00,39.88 L215.00,42.81 L216.00,45.82 L217.00,48.91 L218.00,52.07 L219.00,55.30 L220.00,58.58 L221.00,61.92 L222.00,65.30 L223.00,68.82 L224.00,72.49 L225.00,76.26 L226.00,80.12 L227.00,84.03 L228.00,87.97 L229.00,91.91 L230.00,95.81 L231.00,99.82 L232.00,104.02 L233.00,108.34 L234.00,112.68 L235.00,116.96 L236.00,121.10 L237.00,125.01 L238.00,128.62 L239.00,131.84 L240.00,134.53 L241.00,136.81 L242.00,139.13 L243.00,141.96 L244.00,145.25 L245.00,148.70 L246.00,151.98 L247.00,154.82 L248.00,157.50 L249.00,160.10 L250.00,162.62 L251.00,165.05 L252.00,167.40 L253.00,169.65 L254.00,172.33 L255.00,175.10 L256.00,177.69 L257.00,180.17 L258.00,182.54 L259.00,184.79 L260.00,186.93 L261.00,188.97 L262.00,190.90 L263.00,192.90 L264.00,194.85 L265.00,196.69 L266.00,198.41 L267.00,200.02 L268.00,201.53 L269.00,202.94 L270.00,204.26 L271.00,205.47 L272.00,206.58 L273.00,207.62 L274.00,208.58 L275.00,209.48 L276.00,210.32 L277.00,211.09 L278.00,211.81 L279.00,212.49 L280.00,213.12 L281.00,213.70 L282.00,214.23 L283.00,214.74 L284.00,215.20 L285.00,215.62 L286.00,216.02 L287.00,216.39 L288.00,216.75 L289.00,217.12 L290.00,217.52 L291.00,217.89 L292.00,218.19 L293.00,218.42 L294.00,218.64 L295.00,218.85 L296.00,219.03 L297.00,219.21 L298.00,219.39 L299.00,219.58 L300.00,219.78 L301.00,219.96 L302.00,220.14 L303.00,220.30 L304.00,220.45 L305.00,220.57 L306.00,220.68 L307.00,220.80 L308.00,220.92 L309.00,221.04 L310.00,221.15 L311.00,221.25 L312.00,221.35 L313.00,221.44 L314.00,221.53 L315.00,221.61 L316.00,221.68 L317.00,221.76 L318.00,221.82 L319.00,221.89 L320.00,221.95 L321.00,222.01 L322.00,222.07 L323.00,222.12 L324.00,222.17 L325.00,222.22 L326.00,222.27 L327.00,222.31 L328.00,222.35 L329.00,222.38 L330.00,222.42 L331.00,222.45 L332.00,222.48 L333.00,222.51 L334.00,222.53 L335.00,222.54 L336.00,222.56 L337.00,222.57 L338.00,222.58 L339.00,222.59 L340.00,222.60 L341.00,222.61" stroke-dashoffset="5.71"/>
<path d="M111.50,222.21 L112.00,222.19 L112.50,222.16 L113.00,222.13 L113.50,222.10 L114.00,222.08 L114.50,222.04 L115.00,222.01 L115.50,221.98 L116.00,221.95 L116.50,221.91 L117.00,221.87 L117.50,221.84 L118.00,221.80 L118.50,221.76 L119.00,221.72 L119.50,221.68 L120.00,221.64 L120.50,221.60 L121.00,221.55 L121.50,221.51 L122.00,221.46 L122.50,221.41 L123.00,221.36 L123.50,221.30 L124.00,221.25 L124.50,221.19 L125.00,221.13 L125.50,221.07 L126.00,221.00 L126.50,220.94 L127.00,220.87 L127.50,220.80 L128.00,220.72 L128.50,220.65 L129.00,220.57 L129.50,220.49 L130.00,220.40 L130.50,220.32 L131.00,220.23 L131.50,220.13 L132.00,220.03 L132.50,219.93 L133.00,219.83 L133.50,219.72 L134.00,219.61 L134.50,219.49 L135.00,219.37 L135.50,219.25 L136.00,219.12 L136.50,218.99 L137.00,218.85 L137.50,218.70 L138.00,218.56 L138.50,218.40 L139.00,218.24 L139.50,218.08 L140.00,217.91 L140.50,217.73 L141.00,217.55 L141.50,217.36 L142.00,217.16 L142.50,216.96 L143.00,216.75 L143.50,216.53 L144.00,216.30 L144.50,216.07 L145.00,215.82 L145.50,215.57 L146.00,215.31 L146.50,215.04 L147.00,214.76 L147.50,214.47 L148.00,214.17 L148.50,213.86 L149.00,213.54 L149.50,213.21 L150.00,212.86 L150.50,212.50 L151.00,212.13 L151.50,211.75 L152.00,211.35 L152.50,210.94 L153.00,210.52 L153.50,210.08 L154.00,209.62 L154.50,209.15 L155.00,208.66 L155.50,208.16 L156.00,207.63 L156.50,207.09 L157.00,206.53 L157.50,205.95 L158.00,205.35 L158.50,204.73 L159.00,204.09 L159.50,203.42 L160.00,202.74 L160.50,202.03 L161.00,201.29 L161.50,200.53 L162.00,199.75 L162.50,198.93 L163.00,198.09 L163.50,197.23 L164.00,196.33 L164.50,195.40 L165.00,194.45 L165.50,193.46 L166.00,192.44 L166.50,191.38 L167.00,190.30 L167.50,189.17 L168.00,188.01 L168.50,186.82 L169.00,185.58 L169.50,184.31 L170.00,182.97 L170.50,181.58 L171.00,180.14 L171.50,178.66 L172.00,177.13 L172.50,175.56 L173.00,173.95 L173.50,172.29 L174.00,170.57 L174.50,168.82 L175.00,167.01 L175.50,165.15 L176.00,163.24 L176.50,161.28 L177.00,159.28 L177.50,157.22 L178.00,155.10 L178.50,152.94 L179.00,150.72 L179.50,148.45 L180.00,146.13 L180.50,143.76 L181.00,141.34 L181.50,138.86 L182.00,136.34 L182.50,133.76 L183.00,131.14 L183.50,128.46 L184.00,125.74 L184.50,122.98 L185.00,120.17 L185.50,117.32 L186.00,114.43 L186.50,111.50 L187.00,108.53 L187.50,105.53 L188.00,102.50 L188.50,99.44 L189.00,96.35 L189.50,93.24 L190.00,90.12 L190.50,86.98 L191.00,83.83 L191.50,80.67 L192.00,77.51 L192.50,74.36 L193.00,71.21 L193.50,68.07 L194.00,64.95 L194.50,61.86 L195.00,58.79 L195.50,55.76 L196.00,52.76 L196.50,49.82 L197.00,46.92 L197.50,44.08 L198.00,41.31 L198.50,38.60 L199.00,35.97 L199.50,33.43 L200.00,30.97 L200.50,28.60 L201.00,26.33 L201.50,24.17 L202.00,22.12 L202.50,20.19 L203.00,18.38 L203.50,16.69 L204.00,15.13 L204.50,13.71 L205.00,12.43 L205.50,11.29 L206.00,10.29 L206.50,9.44 L207.00,8.75 L207.50,8.20 L208.00,7.81 L208.50,7.58 L209.00,7.50 L209.50,7.54 L210.00,7.61 L210.50,7.75 L211.00,8.00 L211.50,8.31 L212.00,8.70 L212.50,9.16 L213.00,9.70 L213.50,10.31 L214.00,11.00 L214.50,11.76 L215.00,12.59 L215.50,13.48 L216.00,14.45 L216.50,15.48 L217.00,16.58 L217.50,17.74 L218.00,18.97 L218.50,20.25 L219.00,21.60 L219.50,23.00 L220.00,24.46 L220.50,25.98 L221.00,27.54 L221.50,29.16 L222.00,30.82 L222.50,32.53 L223.00,34.29 L223.50,36.08 L224.00,37.92 L224.50,39.79 L225.00,41.71 L225.50,43.65 L226.00,45.63 L226.50,47.63 L227.00,49.67 L227.50,51.72 L228.00,53.81 L228.50,55.91 L229.00,58.03 L229.50,60.17 L230.00,62.33 L230.50,64.50 L231.00,66.68 L231.50,68.87 L232.00,71.07 L232.50,73.27 L233.00,75.48 L233.50,77.70 L234.00,79.91 L234.50,82.12 L235.00,84.33 L235.50,86.54 L236.00,88.75 L236.50,90.94 L237.00,93.13 L237.50,95.31 L238.00,97.48 L238.50,99.64 L239.00,101.78 L239.50,103.92 L240.00,106.04 L240.50,108.14 L241.00,110.22 L241.50,112.29 L242.00,114.34 L242.50,116.37 L243.00,118.39 L243.50,120.38 L244.00,122.35 L244.50,124.30 L245.00,126.23 L245.50,128.13 L246.00,130.01 L246.50,131.87 L247.00,133.71 L247.50,135.52 L248.00,137.30 L248.50,139.07 L249.00,140.80 L249.50,142.52 L250.00,144.20 L250.50,145.86 L251.00,147.50 L251.50,149.11 L252.00,150.69 L252.50,152.25 L253.00,153.79 L253.50,155.29 L254.00,156.78 L254.50,158.23 L255.00,159.67 L255.50,161.07 L256.00,162.45 L256.50,163.81 L257.00,165.14 L257.50,166.45 L258.00,167.73 L258.50,168.97 L259.00,170.24 L259.50,171.76 L260.00,173.37 L260.50,174.90 L261.00,176.40 L261.50,177.87 L262.00,179.31 L262.50,180.71 L263.00,182.09 L263.50,183.44 L264.00,184.75 L264.50,186.03 L265.00,187.28 L265.50,188.50 L266.00,189.69 L266.50,190.86 L267.00,192.05 L267.50,193.23 L268.00,194.38 L268.50,195.50 L269.00,196.57 L269.50,197.61 L270.00,198.62 L270.50,199.58 L271.00,200.51 L271.50,201.40 L272.00,202.26 L272.50,203.09 L273.00,203.87 L273.50,204.63 L274.00,205.35 L274.50,206.05 L275.00,206.71 L275.50,207.35 L276.00,207.96 L276.50,208.54 L277.00,209.09 L277.50,209.62 L278.00,210.12 L278.50,210.59 L279.00,211.05 L279.50,211.48 L280.00,211.89 L280.50,212.28 L281.00,212.66 L281.50,213.02 L282.00,213.35 L282.50,213.67 L283.00,213.97 L283.50,214.26 L284.00,214.54 L284.50,214.80 L285.00,215.05 L285.50,215.27 L286.00,215.49 L286.50,215.71 L287.00,215.91 L287.50,216.11 L288.00,216.30 L288.50,216.49 L289.00,216.67 L289.50,216.85 L290.00,217.04 L290.50,217.24 L291.00,217.44 L291.50,217.63 L292.00,217.82 L292.50,218.00 L293.00,218.15 L293.50,218.27 L294.00,218.39 L294.50,218.50 L295.00,218.62 L295.50,218.73 L296.00,218.83 L296.50,218.92 L297.00,219.01 L297.50,219.10 L298.00,219.19 L298.50,219.27 L299.00,219.36 L299.50,219.45 L300.00,219.54 L300.50,219.63 L301.00,219.73 L301.50,219.82 L302.00,219.91 L302.50,220.00 L303.00,220.08 L303.50,220.16 L304.00,220.24 L304.50,220.32 L305.00,220.39 L305.50,220.46 L306.00,220.51 L306.50,220.57 L307.00,220.63 L307.50,220.68 L308.00,220.73 L308.50,220.79 L309.00,220.84 L309.50,220.90 L310.00,220.95 L310.50,221.01 L311.00,221.06 L311.50,221.11 L312.00,221.16 L312.50,221.21 L313.00,221.25 L313.50,221.30 L314.00,221.34 L314.50,221.38 L315.00,221.42 L315.50,221.46 L316.00,221.50 L316.50,221.54 L317.00,221.57 L317.50,221.61 L318.00,221.64 L318.50,221.68 L319.00,221.71 L319.50,221.74 L320.00,221.77 L320.50,221.80 L321.00,221.83 L321.50,221.86 L322.00,221.89 L322.50,221.91 L323.00,221.94 L323.50,221.97 L324.00,222.00 L324.50,222.03 L325.00,222.06 L325.50,222.09 L326.00,222.11 L326.50,222.14 L327.00,222.16 L327.50,222.18 L328.00,222.21 L328.50,222.23 L329.00,222.25 L329.50,222.27 L330.00,222.29 L330.50,222.31 L331.00,222.33 L331.50,222.35 L332.00,222.37 L332.50,222.38 L333.00,222.40 L333.50,222.41 L334.00,222.43 L334.50,222.45 L335.00,222.46 L335.50,222.48 L336.00,222.49 L336.50,222.51 L337.00,222.52 L337.50,222.53 L338.00,222.53 L338.50,222.54 L339.00,222.55 L339.50,222.55 L340.00,222.56 L340.50,222.57 L341.00,222.57" stroke-dashoffset="2.61"/>
<path d="M123.00,222.22 L123.50,222.20 L124.00,222.17 L124.50,222.14 L125.00,222.11 L125.50,222.08 L126.00,222.05 L126.50,222.02 L127.00,221.99 L127.50,221.96 L128.00,221.92 L128.50,221.88 L129.00,221.85 L129.50,221.81 L130.00,221.77 L130.50,221.72 L131.00,221.68 L131.50,221.63 L132.00,221.59 L132.50,221.54 L133.00,221.49 L133.50,221.44 L134.00,221.39 L134.50,221.34 L135.00,221.29 L135.50,221.25 L136.00,221.19 L136.50,221.14 L137.00,221.09 L137.50,221.03 L138.00,220.97 L138.50,220.91 L139.00,220.85 L139.50,220.78 L140.00,220.72 L140.50,220.65 L141.00,220.58 L141.50,220.50 L142.00,220.43 L142.50,220.35 L143.00,220.27 L143.50,220.18 L144.00,220.09 L144.50,220.00 L145.00,219.91 L145.50,219.81 L146.00,219.71 L146.50,219.61 L147.00,219.50 L147.50,219.39 L148.00,219.28 L148.50,219.16 L149.00,219.04 L149.50,218.91 L150.00,218.78 L150.50,218.64 L151.00,218.50 L151.50,218.36 L152.00,218.21 L152.50,218.05 L153.00,217.89 L153.50,217.72 L154.00,217.55 L154.50,217.37 L155.00,217.18 L155.50,216.99 L156.00,216.79 L156.50,216.59 L157.00,216.37 L157.50,216.15 L158.00,215.92 L158.50,215.69 L159.00,215.44 L159.50,215.19 L160.00,214.92 L160.50,214.65 L161.00,214.37 L161.50,214.08 L162.00,213.78 L162.50,213.46 L163.00,213.14 L163.50,212.80 L164.00,212.45 L164.50,212.09 L165.00,211.72 L165.50,211.33 L166.00,210.93 L166.50,210.52 L167.00,210.09 L167.50,209.64 L168.00,209.18 L168.50,208.70 L169.00,208.21 L169.50,207.69 L170.00,207.16 L170.50,206.61 L171.00,206.04 L171.50,205.45 L172.00,204.84 L172.50,204.21 L173.00,203.56 L173.50,202.88 L174.00,202.18 L174.50,201.45 L175.00,200.70 L175.50,199.92 L176.00,199.11 L176.50,198.28 L177.00,197.42 L177.50,196.52 L178.00,195.60 L178.50,194.65 L179.00,193.66 L179.50,192.64 L180.00,191.58 L180.50,190.49 L181.00,189.36 L181.50,188.19 L182.00,186.98 L182.50,185.74 L183.00,184.45 L183.50,183.06 L184.00,181.58 L184.50,180.06 L185.00,178.49 L185.50,176.87 L186.00,175.20 L186.50,173.48 L187.00,171.70 L187.50,169.88 L188.00,167.99 L188.50,166.06 L189.00,164.06 L189.50,162.01 L190.00,159.91 L190.50,157.74 L191.00,155.52 L191.50,153.24 L192.00,150.90 L192.50,148.50 L193.00,146.05 L193.50,143.54 L194.00,140.97 L194.50,138.34 L195.00,135.65 L195.50,132.91 L196.00,130.12 L196.50,127.27 L197.00,124.37 L197.50,121.42 L198.00,118.43 L198.50,115.38 L199.00,112.29 L199.50,109.16 L200.00,106.00 L200.50,102.79 L201.00,99.56 L201.50,96.30 L202.00,93.01 L202.50,89.70 L203.00,86.38 L203.50,83.04 L204.00,79.70 L204.50,76.36 L205.00,73.03 L205.50,69.70 L206.00,66.40 L206.50,63.11 L207.00,59.85 L207.50,56.63 L208.00,53.46 L208.50,50.33 L209.00,47.26 L209.50,44.25 L210.00,41.31 L210.50,38.45 L211.00,35.68 L211.50,33.00 L212.00,30.41 L212.50,27.94 L213.00,25.58 L213.50,23.33 L214.00,21.22 L214.50,19.23 L215.00,17.39 L215.50,15.69 L216.00,14.13 L216.50,12.73 L217.00,11.49 L217.50,10.42 L218.00,9.50 L218.50,8.76 L219.00,8.18 L219.50,7.78 L220.00,7.56 L220.50,7.50 L221.00,7.50 L221.50,7.50 L222.00,7.50 L222.50,7.58 L223.00,7.71 L223.50,7.96 L224.00,8.42 L224.50,8.98 L225.00,9.70 L225.50,10.54 L226.00,11.53 L226.50,12.63 L227.00,13.88 L227.50,15.24 L228.00,16.73 L228.50,18.32 L229.00,20.04 L229.50,21.87 L230.00,23.80 L230.50,25.83 L231.00,27.96 L231.50,30.18 L232.00,32.49 L232.50,34.87 L233.00,37.34 L233.50,39.87 L234.00,42.47 L234.50,45.13 L235.00,47.85 L235.50,50.62 L236.00,53.43 L236.50,56.28 L237.00,59.17 L237.50,62.09 L238.00,65.03 L238.50,67.99 L239.00,70.97 L239.50,73.96 L240.00,76.96 L240.50,79.96 L241.00,82.96 L241.50,85.96 L242.00,88.94 L242.50,91.92 L243.00,94.88 L243.50,97.82 L244.00,100.74 L244.50,103.64 L245.00,106.51 L245.50,109.35 L246.00,112.16 L246.50,114.94 L247.00,117.68 L247.50,120.39 L248.00,123.05 L248.50,125.68 L249.00,128.27 L249.50,130.81 L250.00,133.31 L250.50,135.77 L251.00,138.18 L251.50,140.54 L252.00,142.87 L252.50,145.14 L253.00,147.37 L253.50,149.54 L254.00,151.68 L254.50,153.76 L255.00,155.80 L255.50,157.79 L256.00,159.74 L256.50,161.64 L257.00,163.49 L257.50,165.30 L258.00,167.06 L258.50,168.78 L259.00,170.45 L259.50,172.02 L260.00,173.56 L260.50,175.07 L261.00,176.57 L261.50,178.03 L262.00,179.46 L262.50,180.86 L263.00,182.24 L263.50,183.58 L264.00,184.88 L264.50,186.16 L265.00,187.40 L265.50,188.61 L266.00,189.80 L266.50,190.97 L267.00,192.15 L267.50,193.33 L268.00,194.48 L268.50,195.59 L269.00,196.66 L269.50,197.70 L270.00,198.69 L270.50,199.65 L271.00,200.58 L271.50,201.47 L272.00,202.32 L272.50,203.14 L273.00,203.93 L273.50,204.68 L274.00,205.40 L274.50,206.09 L275.00,206.75 L275.50,207.39 L276.00,207.99 L276.50,208.57 L277.00,209.12 L277.50,209.64 L278.00,210.14 L278.50,210.61 L279.00,211.07 L279.50,211.50 L280.00,211.91 L280.50,212.30 L281.00,212.68 L281.50,213.03 L282.00,213.36 L282.50,213.68 L283.00,213.98 L283.50,214.27 L284.00,214.54 L284.50,214.81 L285.00,215.05 L285.50,215.28 L286.00,215.50 L286.50,215.71 L287.00,215.92 L287.50,216.12 L288.00,216.31 L288.50,216.50 L289.00,216.68 L289.50,216.85 L290.00,217.05 L290.50,217.24 L291.00,217.44 L291.50,217.64 L292.00,217.82 L292.50,218.00 L293.00,218.15 L293.50,218.27 L294.00,218.39 L294.50,218.51 L295.00,218.62 L295.50,218.73 L296.00,218.83 L296.50,218.92 L297.00,219.02 L297.50,219.10 L298.00,219.19 L298.50,219.28 L299.00,219.36 L299.50,219.45 L300.00,219.54 L300.50,219.64 L301.00,219.73 L301.50,219.82 L302.00,219.91 L302.50,220.00 L303.00,220.08 L303.50,220.16 L304.00,220.24 L304.50,220.32 L305.00,220.39 L305.50,220.46 L306.00,220.52 L306.50,220.57 L307.00,220.63 L307.50,220.68 L308.00,220.73 L308.50,220.79 L309.00,220.84 L309.50,220.90 L310.00,220.95 L310.50,221.01 L311.00,221.06 L311.50,221.11 L312.00,221.16 L312.50,221.21 L313.00,221.25 L313.50,221.30 L314.00,221.34 L314.50,221.39 L315.00,221.43 L315.50,221.47 L316.00,221.50 L316.50,221.54 L317.00,221.58 L317.50,221.61 L318.00,221.65 L318.50,221.68 L319.00,221.71 L319.50,221.74 L320.00,221.77 L320.50,221.80 L321.00,221.83 L321.50,221.86 L322.00,221.89 L322.50,221.92 L323.00,221.95 L323.50,221.98 L324.00,222.01 L324.50,222.03 L325.00,222.06 L325.50,222.09 L326.00,222.11 L326.50,222.14 L327.00,222.16 L327.50,222.19 L328.00,222.21 L328.50,222.23 L329.00,222.25 L329.50,222.27 L330.00,222.29 L330.50,222.31 L331.00,222.33 L331.50,222.35 L332.00,222.37 L332.50,222.38 L333.00,222.40 L333.50,222.42 L334.00,222.43 L334.50,222.45 L335.00,222.46 L335.50,222.48 L336.00,222.49 L336.50,222.51 L337.00,222.52 L337.50,222.53 L338.00,222.53 L338.50,222.54 L339.00,222.55 L339.50,222.55 L340.00,222.56 L340.50,222.57 L341.00,222.57" stroke-dashoffset="1.91"/>
<path d="M135.50,222.21 L136.00,222.18 L136.50,222.15 L137.00,222.12 L137.50,222.09 L138.00,222.06 L138.50,222.03 L139.00,221.99 L139.50,221.96 L140.00,221.92 L140.50,221.88 L141.00,221.84 L141.50,221.80 L142.00,221.75 L142.50,221.71 L143.00,221.66 L143.50,221.61 L144.00,221.56 L144.50,221.51 L145.00,221.46 L145.50,221.41 L146.00,221.36 L146.50,221.31 L147.00,221.26 L147.50,221.20 L148.00,221.14 L148.50,221.09 L149.00,221.02 L149.50,220.96 L150.00,220.90 L150.50,220.83 L151.00,220.76 L151.50,220.69 L152.00,220.61 L152.50,220.53 L153.00,220.45 L153.50,220.37 L154.00,220.28 L154.50,220.19 L155.00,220.10 L155.50,220.00 L156.00,219.91 L156.50,219.80 L157.00,219.69 L157.50,219.58 L158.00,219.47 L158.50,219.35 L159.00,219.22 L159.50,219.10 L160.00,218.96 L160.50,218.82 L161.00,218.68 L161.50,218.53 L162.00,218.38 L162.50,218.22 L163.00,218.05 L163.50,217.88 L164.00,217.70 L164.50,217.52 L165.00,217.32 L165.50,217.12 L166.00,216.92 L166.50,216.70 L167.00,216.48 L167.50,216.25 L168.00,216.01 L168.50,215.76 L169.00,215.50 L169.50,215.23 L170.00,214.95 L170.50,214.66 L171.00,214.36 L171.50,214.05 L172.00,213.73 L172.50,213.40 L173.00,213.05 L173.50,212.69 L174.00,212.31 L174.50,211.92 L175.00,211.52 L175.50,211.10 L176.00,210.67 L176.50,210.21 L177.00,209.75 L177.50,209.26 L178.00,208.75 L178.50,208.23 L179.00,207.69 L179.50,207.12 L180.00,206.54 L180.50,205.93 L181.00,205.30 L181.50,204.65 L182.00,203.97 L182.50,203.26 L183.00,202.53 L183.50,201.78 L184.00,200.99 L184.50,200.18 L185.00,199.33 L185.50,198.45 L186.00,197.55 L186.50,196.60 L187.00,195.63 L187.50,194.62 L188.00,193.57 L188.50,192.48 L189.00,191.35 L189.50,190.19 L190.00,188.98 L190.50,187.73 L191.00,186.44 L191.50,185.10 L192.00,183.69 L192.50,182.16 L193.00,180.57 L193.50,178.93 L194.00,177.24 L194.50,175.49 L195.00,173.68 L195.50,171.81 L196.00,169.89 L196.50,167.90 L197.00,165.85 L197.50,163.74 L198.00,161.57 L198.50,159.33 L199.00,157.03 L199.50,154.67 L200.00,152.24 L200.50,149.75 L201.00,147.19 L201.50,144.56 L202.00,141.88 L202.50,139.12 L203.00,136.31 L203.50,133.43 L204.00,130.50 L204.50,127.50 L205.00,124.44 L205.50,121.33 L206.00,118.17 L206.50,114.95 L207.00,111.69 L207.50,108.38 L208.00,105.03 L208.50,101.64 L209.00,98.22 L209.50,94.76 L210.00,91.28 L210.50,87.79 L211.00,84.28 L211.50,80.75 L212.00,77.23 L212.50,73.71 L213.00,70.20 L213.50,66.71 L214.00,63.24 L214.50,59.81 L215.00,56.42 L215.50,53.07 L216.00,49.78 L216.50,46.55 L217.00,43.40 L217.50,40.33 L218.00,37.34 L218.50,34.46 L219.00,31.68 L219.50,29.02 L220.00,26.47 L220.50,24.06 L221.00,21.79 L221.50,19.66 L222.00,17.69 L222.50,15.87 L223.00,14.22 L223.50,12.74 L224.00,11.44 L224.50,10.31 L225.00,9.37 L225.50,8.62 L226.00,8.06 L226.50,7.69 L227.00,7.52 L227.50,7.50 L228.00,7.50 L228.50,7.50 L229.00,7.50 L229.50,7.50 L230.00,7.63 L230.50,7.81 L231.00,8.19 L231.50,8.81 L232.00,9.57 L232.50,10.52 L233.00,11.63 L233.50,12.92 L234.00,14.36 L234.50,15.97 L235.00,17.72 L235.50,19.63 L236.00,21.67 L236.50,23.86 L237.00,26.17 L237.50,28.61 L238.00,31.16 L238.50,33.82 L239.00,36.57 L239.50,39.43 L240.00,42.36 L240.50,45.38 L241.00,48.46 L241.50,51.61 L242.00,54.82 L242.50,58.07 L243.00,61.36 L243.50,64.69 L244.00,68.05 L244.50,71.42 L245.00,74.81 L245.50,78.21 L246.00,81.61 L246.50,85.00 L247.00,88.39 L247.50,91.76 L248.00,95.11 L248.50,98.44 L249.00,101.74 L249.50,105.01 L250.00,108.25 L250.50,111.44 L251.00,114.59 L251.50,117.70 L252.00,120.76 L252.50,123.78 L253.00,126.73 L253.50,129.64 L254.00,132.49 L254.50,135.29 L255.00,138.03 L255.50,140.71 L256.00,143.33 L256.50,145.89 L257.00,148.39 L257.50,150.83 L258.00,153.21 L258.50,155.53 L259.00,157.79 L259.50,159.99 L260.00,162.13 L260.50,164.21 L261.00,166.24 L261.50,168.23 L262.00,170.11 L262.50,171.82 L263.00,173.45 L263.50,175.08 L264.00,176.69 L264.50,178.27 L265.00,179.83 L265.50,181.35 L266.00,182.85 L266.50,184.31 L267.00,185.74 L267.50,187.13 L268.00,188.49 L268.50,189.83 L269.00,191.15 L269.50,192.47 L270.00,193.77 L270.50,195.02 L271.00,196.23 L271.50,197.39 L272.00,198.51 L272.50,199.59 L273.00,200.62 L273.50,201.61 L274.00,202.55 L274.50,203.45 L275.00,204.31 L275.50,205.13 L276.00,205.92 L276.50,206.68 L277.00,207.41 L277.50,208.09 L278.00,208.74 L278.50,209.34 L279.00,209.91 L279.50,210.45 L280.00,210.96 L280.50,211.44 L281.00,211.89 L281.50,212.32 L282.00,212.73 L282.50,213.11 L283.00,213.46 L283.50,213.79 L284.00,214.10 L284.50,214.39 L285.00,214.68 L285.50,214.95 L286.00,215.19 L286.50,215.41 L287.00,215.63 L287.50,215.84 L288.00,216.05 L288.50,216.24 L289.00,216.44 L289.50,216.62 L290.00,216.80 L290.50,216.99 L291.00,217.18 L291.50,217.38 L292.00,217.58 L292.50,217.77 L293.00,217.95 L293.50,218.11 L294.00,218.24 L294.50,218.36 L295.00,218.48 L295.50,218.60 L296.00,218.71 L296.50,218.81 L297.00,218.91 L297.50,219.00 L298.00,219.09 L298.50,219.17 L299.00,219.26 L299.50,219.34 L300.00,219.43 L300.50,219.52 L301.00,219.61 L301.50,219.70 L302.00,219.79 L302.50,219.88 L303.00,219.96 L303.50,220.05 L304.00,220.13 L304.50,220.20 L305.00,220.28 L305.50,220.35 L306.00,220.42 L306.50,220.48 L307.00,220.54 L307.50,220.59 L308.00,220.65 L308.50,220.70 L309.00,220.75 L309.50,220.80 L310.00,220.85 L310.50,220.91 L311.00,220.96 L311.50,221.01 L312.00,221.06 L312.50,221.11 L313.00,221.16 L313.50,221.20 L314.00,221.25 L314.50,221.29 L315.00,221.33 L315.50,221.37 L316.00,221.41 L316.50,221.45 L317.00,221.49 L317.50,221.52 L318.00,221.56 L318.50,221.59 L319.00,221.62 L319.50,221.65 L320.00,221.69 L320.50,221.72 L321.00,221.75 L321.50,221.77 L322.00,221.80 L322.50,221.83 L323.00,221.86 L323.50,221.88 L324.00,221.91 L324.50,221.94 L325.00,221.97 L325.50,221.99 L326.00,222.02 L326.50,222.05 L327.00,222.08 L327.50,222.10 L328.00,222.13 L328.50,222.15 L329.00,222.17 L329.50,222.20 L330.00,222.22 L330.50,222.24 L331.00,222.26 L331.50,222.28 L332.00,222.30 L332.50,222.32 L333.00,222.34 L333.50,222.35 L334.00,222.37 L334.50,222.39 L335.00,222.40 L335.50,222.42 L336.00,222.43 L336.50,222.45 L337.00,222.46 L337.50,222.48 L338.00,222.49 L338.50,222.51 L339.00,222.52 L339.50,222.53 L340.00,222.53 L340.50,222.54 L341.00,222.55" stroke-dashoffset="2.21"/>
<path d="M152.00,222.23 L153.00,222.17 L154.00,222.10 L155.00,222.04 L156.00,221.96 L157.00,221.87 L158.00,221.77 L159.00,221.66 L160.00,221.53 L161.00,221.39 L162.00,221.24 L163.00,221.07 L164.00,220.90 L165.00,220.72 L166.00,220.53 L167.00,220.32 L168.00,220.07 L169.00,219.78 L170.00,219.47 L171.00,219.13 L172.00,218.77 L173.00,218.39 L174.00,217.97 L175.00,217.50 L176.00,216.99 L177.00,216.42 L178.00,215.79 L179.00,215.03 L180.00,214.13 L181.00,213.14 L182.00,212.15 L183.00,211.16 L184.00,210.14 L185.00,209.07 L186.00,207.95 L187.00,206.76 L188.00,205.49 L189.00,204.15 L190.00,202.72 L191.00,201.18 L192.00,199.49 L193.00,197.63 L194.00,195.42 L195.00,192.96 L196.00,190.38 L197.00,187.84 L198.00,185.19 L199.00,182.37 L200.00,179.87 L201.00,178.16 L202.00,176.81 L203.00,175.65 L204.00,174.75 L205.00,174.16 L206.00,173.84 L207.00,173.56 L208.00,173.31 L209.00,173.11 L210.00,172.95 L211.00,172.85 L212.00,172.80 L213.00,172.81 L214.00,172.86 L215.00,172.95 L216.00,173.08 L217.00,173.24 L218.00,173.43 L219.00,173.64 L220.00,173.88 L221.00,174.13 L222.00,174.39 L223.00,174.67 L224.00,174.95 L225.00,175.23 L226.00,175.51 L227.00,175.81 L228.00,176.14 L229.00,176.51 L230.00,176.91 L231.00,177.34 L232.00,177.80 L233.00,178.28 L234.00,178.78 L235.00,179.31 L236.00,179.86 L237.00,180.42 L238.00,181.00 L239.00,181.59 L240.00,182.19 L241.00,182.85 L242.00,183.60 L243.00,184.41 L244.00,185.25 L245.00,186.09 L246.00,186.90 L247.00,187.65 L248.00,188.32 L249.00,188.94 L250.00,189.53 L251.00,190.14 L252.00,190.81 L253.00,191.51 L254.00,192.24 L255.00,192.98 L256.00,193.75 L257.00,194.55 L258.00,195.38 L259.00,196.24 L260.00,197.14 L261.00,198.09 L262.00,199.17 L263.00,200.30 L264.00,201.36 L265.00,202.30 L266.00,203.19 L267.00,204.05 L268.00,204.93 L269.00,205.86 L270.00,206.91 L271.00,208.02 L272.00,209.14 L273.00,210.19 L274.00,211.09 L275.00,211.78 L276.00,212.34 L277.00,212.89 L278.00,213.42 L279.00,213.92 L280.00,214.39 L281.00,214.84 L282.00,215.27 L283.00,215.67 L284.00,216.05 L285.00,216.41 L286.00,216.75 L287.00,217.14 L288.00,217.54 L289.00,217.90 L290.00,218.19 L291.00,218.41 L292.00,218.62 L293.00,218.82 L294.00,219.02 L295.00,219.20 L296.00,219.38 L297.00,219.58 L298.00,219.79 L299.00,219.99 L300.00,220.18 L301.00,220.35 L302.00,220.50 L303.00,220.62 L304.00,220.74 L305.00,220.87 L306.00,221.01 L307.00,221.14 L308.00,221.26 L309.00,221.37 L310.00,221.48 L311.00,221.58 L312.00,221.67 L313.00,221.75 L314.00,221.83 L315.00,221.90 L316.00,221.97 L317.00,222.04 L318.00,222.10 L319.00,222.15 L320.00,222.20 L321.00,222.25 L322.00,222.30 L323.00,222.34 L324.00,222.38 L325.00,222.41 L326.00,222.45 L327.00,222.49 L328.00,222.52 L329.00,222.53 L330.00,222.55 L331.00,222.56 L332.00,222.57 L333.00,222.58 L334.00,222.59 L335.00,222.60 L336.00,222.61 L337.00,222.62 L338.00,222.63 L339.00,222.64 L340.00,222.65 L341.00,222.66" stroke-dashoffset="0.41"/>
<path d="M54.00,222.95 H152" stroke-width="2" stroke-dasharray="3.2 2.9"/>
<path d="M338,223.50 H403.20" stroke-width="1.3" stroke-dasharray="2.9 3.1"/>
<path d="M312,50.7 H333.7"/>
</g>
</svg>
<div class="t" style="right:366.3px;top:213.1px;">0</div>
<div class="t" style="right:366.3px;top:159.2px;">0.25</div>
<div class="t" style="right:366.3px;top:105.4px;">0.5</div>
<div class="t" style="right:366.3px;top:51.5px;">0.75</div>
<div class="t" style="right:366.3px;top:-2.3px;">1</div>
<div class="t" style="right:362.1px;top:226.6px;">10</div>
<div class="t sup" style="left:54.5px;top:222.3px;"><span class="mn">&#8722;</span>5</div>
<div class="t" style="right:303.9px;top:226.6px;">10</div>
<div class="t sup" style="left:112.7px;top:222.3px;"><span class="mn">&#8722;</span>4</div>
<div class="t" style="right:245.7px;top:226.6px;">10</div>
<div class="t sup" style="left:170.9px;top:222.3px;"><span class="mn">&#8722;</span>3</div>
<div class="t" style="right:187.5px;top:226.6px;">10</div>
<div class="t sup" style="left:229.1px;top:222.3px;"><span class="mn">&#8722;</span>2</div>
<div class="t" style="right:129.3px;top:226.6px;">10</div>
<div class="t sup" style="left:287.3px;top:222.3px;"><span class="mn">&#8722;</span>1</div>
<div class="t" style="right:66.3px;top:226.6px;">10</div>
<div class="t sup" style="left:349.0px;top:222.3px;">0</div>
<div class="t" style="right:8.1px;top:226.6px;">10</div>
<div class="t sup" style="left:407.2px;top:222.3px;">1</div>
<div class="t it" style="left:1.8px;top:105.3px;font-size:15px;">g</div>
<div class="t it" style="left:222.3px;top:246.7px;font-size:17.5px;line-height:20px;">t</div>
<div class="t it" style="left:228.4px;top:253.5px;font-size:10.8px;">d</div>
<div class="t" style="left:342.4px;top:21.1px;letter-spacing:0.5px;font-size:15.6px;">NRG</div>
<div class="t" style="left:342.4px;top:40.6px;letter-spacing:0.7px;font-size:15.6px;">HF</div>
</body></html>
